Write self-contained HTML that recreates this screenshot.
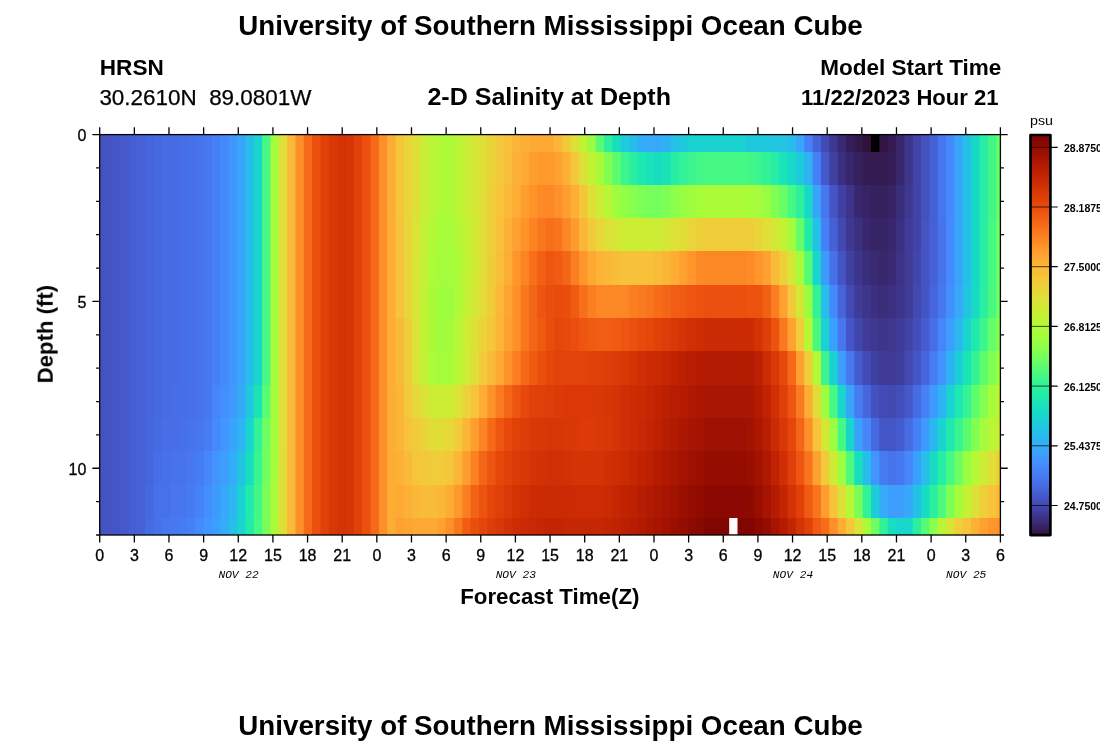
<!DOCTYPE html>
<html><head><meta charset="utf-8"><title>2-D Salinity at Depth</title>
<style>
html,body{margin:0;padding:0;background:#fff;}
svg{display:block;}
text{font-family:"Liberation Sans",sans-serif;fill:#000;}
.b{font-weight:bold;}
.m{font-family:"Liberation Mono",monospace;font-style:italic;}
</style></head><body>
<svg width="1100" height="750" viewBox="0 0 1100 750">
<defs><linearGradient id="cb" x1="0" y1="0" x2="0" y2="1"><stop offset="0.0000" stop-color="#7a0403"/><stop offset="0.0156" stop-color="#850702"/><stop offset="0.0312" stop-color="#920b01"/><stop offset="0.0469" stop-color="#9e1001"/><stop offset="0.0625" stop-color="#a91601"/><stop offset="0.0781" stop-color="#b41b01"/><stop offset="0.0938" stop-color="#be2102"/><stop offset="0.1094" stop-color="#c82803"/><stop offset="0.1250" stop-color="#d02f05"/><stop offset="0.1406" stop-color="#d83706"/><stop offset="0.1562" stop-color="#df3f08"/><stop offset="0.1719" stop-color="#e5470b"/><stop offset="0.1875" stop-color="#eb500e"/><stop offset="0.2031" stop-color="#f05b12"/><stop offset="0.2188" stop-color="#f46617"/><stop offset="0.2344" stop-color="#f8721c"/><stop offset="0.2500" stop-color="#fb7e21"/><stop offset="0.2656" stop-color="#fd8a26"/><stop offset="0.2812" stop-color="#fe962b"/><stop offset="0.2969" stop-color="#fea130"/><stop offset="0.3125" stop-color="#fdac34"/><stop offset="0.3281" stop-color="#fbb637"/><stop offset="0.3438" stop-color="#f8be39"/><stop offset="0.3594" stop-color="#f4c73a"/><stop offset="0.3750" stop-color="#eecf3a"/><stop offset="0.3906" stop-color="#e7d739"/><stop offset="0.4062" stop-color="#dfdf37"/><stop offset="0.4219" stop-color="#d7e535"/><stop offset="0.4375" stop-color="#cdec34"/><stop offset="0.4531" stop-color="#c3f134"/><stop offset="0.4688" stop-color="#b9f635"/><stop offset="0.4844" stop-color="#affa37"/><stop offset="0.5000" stop-color="#a4fc3c"/><stop offset="0.5156" stop-color="#99fe42"/><stop offset="0.5312" stop-color="#8bff4b"/><stop offset="0.5469" stop-color="#7dff56"/><stop offset="0.5625" stop-color="#6dfe62"/><stop offset="0.5781" stop-color="#5dfc6f"/><stop offset="0.5938" stop-color="#4ef97d"/><stop offset="0.6094" stop-color="#3ff68a"/><stop offset="0.6250" stop-color="#32f298"/><stop offset="0.6406" stop-color="#27eea4"/><stop offset="0.6562" stop-color="#1fe9af"/><stop offset="0.6719" stop-color="#19e3b9"/><stop offset="0.6875" stop-color="#18ddc2"/><stop offset="0.7031" stop-color="#19d5cd"/><stop offset="0.7188" stop-color="#1ccdd8"/><stop offset="0.7344" stop-color="#22c5e2"/><stop offset="0.7500" stop-color="#28bceb"/><stop offset="0.7656" stop-color="#2fb2f4"/><stop offset="0.7812" stop-color="#37a8fa"/><stop offset="0.7969" stop-color="#3d9efe"/><stop offset="0.8125" stop-color="#4294ff"/><stop offset="0.8281" stop-color="#458afc"/><stop offset="0.8438" stop-color="#4680f6"/><stop offset="0.8594" stop-color="#4776ee"/><stop offset="0.8750" stop-color="#466be3"/><stop offset="0.8906" stop-color="#4661d6"/><stop offset="0.9062" stop-color="#4456c7"/><stop offset="0.9219" stop-color="#424bb5"/><stop offset="0.9375" stop-color="#4040a2"/><stop offset="0.9531" stop-color="#3d358b"/><stop offset="0.9688" stop-color="#392a73"/><stop offset="0.9844" stop-color="#351e58"/><stop offset="1.0000" stop-color="#30123b"/></linearGradient><clipPath id="pc"><rect x="99.40" y="134.60" width="901.00" height="400.40"/></clipPath></defs>
<rect x="0" y="0" width="1100" height="750" fill="#fff"/>

<g clip-path="url(#pc)">
<rect x="99.40" y="134.00" width="901.10" height="18.00" fill="#4451bf"/>
<rect x="103.57" y="134.00" width="896.93" height="18.00" fill="#4454c3"/>
<rect x="111.91" y="134.00" width="888.59" height="18.00" fill="#4456c7"/>
<rect x="120.25" y="134.00" width="880.25" height="18.00" fill="#4559cb"/>
<rect x="128.60" y="134.00" width="871.90" height="18.00" fill="#455ed3"/>
<rect x="136.94" y="134.00" width="863.56" height="18.00" fill="#4661d6"/>
<rect x="145.28" y="134.00" width="855.22" height="18.00" fill="#4666dd"/>
<rect x="153.62" y="134.00" width="846.88" height="18.00" fill="#4669e0"/>
<rect x="161.96" y="134.00" width="838.54" height="18.00" fill="#466be3"/>
<rect x="178.65" y="134.00" width="821.85" height="18.00" fill="#476ee6"/>
<rect x="186.99" y="134.00" width="813.51" height="18.00" fill="#4771e9"/>
<rect x="195.33" y="134.00" width="805.17" height="18.00" fill="#4773eb"/>
<rect x="203.67" y="134.00" width="796.83" height="18.00" fill="#4778f0"/>
<rect x="212.01" y="134.00" width="788.49" height="18.00" fill="#4680f6"/>
<rect x="220.35" y="134.00" width="780.15" height="18.00" fill="#458afc"/>
<rect x="228.70" y="134.00" width="771.80" height="18.00" fill="#4294ff"/>
<rect x="237.04" y="134.00" width="763.46" height="18.00" fill="#38a5fb"/>
<rect x="245.38" y="134.00" width="755.12" height="18.00" fill="#28bceb"/>
<rect x="253.72" y="134.00" width="746.78" height="18.00" fill="#19d5cd"/>
<rect x="262.06" y="134.00" width="738.44" height="18.00" fill="#46f884"/>
<rect x="270.40" y="134.00" width="730.10" height="18.00" fill="#a4fc3c"/>
<rect x="278.75" y="134.00" width="721.75" height="18.00" fill="#dfdf37"/>
<rect x="287.09" y="134.00" width="713.41" height="18.00" fill="#faba39"/>
<rect x="295.43" y="134.00" width="705.07" height="18.00" fill="#fe9029"/>
<rect x="303.77" y="134.00" width="696.73" height="18.00" fill="#f56918"/>
<rect x="312.11" y="134.00" width="688.39" height="18.00" fill="#eb500e"/>
<rect x="320.45" y="134.00" width="680.05" height="18.00" fill="#e14109"/>
<rect x="328.80" y="134.00" width="671.70" height="18.00" fill="#d83706"/>
<rect x="337.14" y="134.00" width="663.36" height="18.00" fill="#d43305"/>
<rect x="345.48" y="134.00" width="655.02" height="18.00" fill="#d63506"/>
<rect x="353.82" y="134.00" width="646.68" height="18.00" fill="#e14109"/>
<rect x="362.16" y="134.00" width="638.34" height="18.00" fill="#eb500e"/>
<rect x="370.50" y="134.00" width="630.00" height="18.00" fill="#f56918"/>
<rect x="378.85" y="134.00" width="621.65" height="18.00" fill="#fe9029"/>
<rect x="387.19" y="134.00" width="613.31" height="18.00" fill="#fdac34"/>
<rect x="395.53" y="134.00" width="604.97" height="18.00" fill="#f5c53a"/>
<rect x="403.87" y="134.00" width="596.63" height="18.00" fill="#e9d539"/>
<rect x="412.21" y="134.00" width="588.29" height="18.00" fill="#dde037"/>
<rect x="420.55" y="134.00" width="579.95" height="18.00" fill="#c8ef34"/>
<rect x="428.90" y="134.00" width="571.60" height="18.00" fill="#b9f635"/>
<rect x="437.24" y="134.00" width="563.26" height="18.00" fill="#affa37"/>
<rect x="445.58" y="134.00" width="554.92" height="18.00" fill="#acfb38"/>
<rect x="453.92" y="134.00" width="546.58" height="18.00" fill="#b9f635"/>
<rect x="462.26" y="134.00" width="538.24" height="18.00" fill="#c8ef34"/>
<rect x="470.60" y="134.00" width="529.90" height="18.00" fill="#d4e735"/>
<rect x="478.95" y="134.00" width="521.55" height="18.00" fill="#dfdf37"/>
<rect x="487.29" y="134.00" width="513.21" height="18.00" fill="#ebd339"/>
<rect x="495.63" y="134.00" width="504.87" height="18.00" fill="#f2c93a"/>
<rect x="503.97" y="134.00" width="496.53" height="18.00" fill="#f7c13a"/>
<rect x="512.31" y="134.00" width="488.19" height="18.00" fill="#fbb637"/>
<rect x="520.65" y="134.00" width="479.85" height="18.00" fill="#fdae35"/>
<rect x="529.00" y="134.00" width="471.50" height="18.00" fill="#fea933"/>
<rect x="554.02" y="134.00" width="446.48" height="18.00" fill="#fbb637"/>
<rect x="562.36" y="134.00" width="438.14" height="18.00" fill="#f2c93a"/>
<rect x="570.70" y="134.00" width="429.80" height="18.00" fill="#dde037"/>
<rect x="579.05" y="134.00" width="421.45" height="18.00" fill="#c1f334"/>
<rect x="587.39" y="134.00" width="413.11" height="18.00" fill="#99fe42"/>
<rect x="595.73" y="134.00" width="404.77" height="18.00" fill="#59fb73"/>
<rect x="604.07" y="134.00" width="396.43" height="18.00" fill="#2cf09e"/>
<rect x="612.41" y="134.00" width="388.09" height="18.00" fill="#18dec0"/>
<rect x="620.75" y="134.00" width="379.75" height="18.00" fill="#1ecbda"/>
<rect x="629.10" y="134.00" width="371.40" height="18.00" fill="#28bceb"/>
<rect x="637.44" y="134.00" width="363.06" height="18.00" fill="#33adf7"/>
<rect x="645.78" y="134.00" width="354.72" height="18.00" fill="#37a8fa"/>
<rect x="662.46" y="134.00" width="338.04" height="18.00" fill="#2fb2f4"/>
<rect x="670.80" y="134.00" width="329.70" height="18.00" fill="#25c0e7"/>
<rect x="679.15" y="134.00" width="321.35" height="18.00" fill="#1fc9dd"/>
<rect x="687.49" y="134.00" width="313.01" height="18.00" fill="#1ad2d2"/>
<rect x="745.88" y="134.00" width="254.62" height="18.00" fill="#1fc9dd"/>
<rect x="770.90" y="134.00" width="229.60" height="18.00" fill="#20c7df"/>
<rect x="779.25" y="134.00" width="221.25" height="18.00" fill="#23c3e4"/>
<rect x="787.59" y="134.00" width="212.91" height="18.00" fill="#28bceb"/>
<rect x="795.93" y="134.00" width="204.57" height="18.00" fill="#38a5fb"/>
<rect x="804.27" y="134.00" width="196.23" height="18.00" fill="#4680f6"/>
<rect x="812.61" y="134.00" width="187.89" height="18.00" fill="#4664da"/>
<rect x="820.95" y="134.00" width="179.55" height="18.00" fill="#424bb5"/>
<rect x="829.30" y="134.00" width="171.20" height="18.00" fill="#3e3891"/>
<rect x="837.64" y="134.00" width="162.86" height="18.00" fill="#392a73"/>
<rect x="845.98" y="134.00" width="154.52" height="18.00" fill="#351e58"/>
<rect x="854.32" y="134.00" width="146.18" height="18.00" fill="#33184a"/>
<rect x="862.66" y="134.00" width="137.84" height="18.00" fill="#30123b"/>
<rect x="879.35" y="134.00" width="121.15" height="18.00" fill="#321543"/>
<rect x="887.69" y="134.00" width="112.81" height="18.00" fill="#341b51"/>
<rect x="896.03" y="134.00" width="104.47" height="18.00" fill="#38276d"/>
<rect x="904.37" y="134.00" width="96.13" height="18.00" fill="#3d358b"/>
<rect x="912.71" y="134.00" width="87.79" height="18.00" fill="#4143a7"/>
<rect x="921.05" y="134.00" width="79.45" height="18.00" fill="#4451bf"/>
<rect x="929.40" y="134.00" width="71.10" height="18.00" fill="#4661d6"/>
<rect x="937.74" y="134.00" width="62.76" height="18.00" fill="#4776ee"/>
<rect x="946.08" y="134.00" width="54.42" height="18.00" fill="#458afc"/>
<rect x="954.42" y="134.00" width="46.08" height="18.00" fill="#38a5fb"/>
<rect x="962.76" y="134.00" width="37.74" height="18.00" fill="#25c0e7"/>
<rect x="971.10" y="134.00" width="29.40" height="18.00" fill="#18d9c8"/>
<rect x="979.45" y="134.00" width="21.05" height="18.00" fill="#27eea4"/>
<rect x="987.79" y="134.00" width="12.71" height="18.00" fill="#43f787"/>
<rect x="996.13" y="134.00" width="4.37" height="18.00" fill="#65fd69"/>
<rect x="99.40" y="152.00" width="901.10" height="33.00" fill="#4451bf"/>
<rect x="103.57" y="152.00" width="896.93" height="33.00" fill="#4454c3"/>
<rect x="111.91" y="152.00" width="888.59" height="33.00" fill="#4456c7"/>
<rect x="120.25" y="152.00" width="880.25" height="33.00" fill="#4559cb"/>
<rect x="128.60" y="152.00" width="871.90" height="33.00" fill="#455ed3"/>
<rect x="136.94" y="152.00" width="863.56" height="33.00" fill="#4661d6"/>
<rect x="145.28" y="152.00" width="855.22" height="33.00" fill="#4666dd"/>
<rect x="153.62" y="152.00" width="846.88" height="33.00" fill="#4669e0"/>
<rect x="161.96" y="152.00" width="838.54" height="33.00" fill="#466be3"/>
<rect x="178.65" y="152.00" width="821.85" height="33.00" fill="#476ee6"/>
<rect x="186.99" y="152.00" width="813.51" height="33.00" fill="#4771e9"/>
<rect x="195.33" y="152.00" width="805.17" height="33.00" fill="#4773eb"/>
<rect x="203.67" y="152.00" width="796.83" height="33.00" fill="#4778f0"/>
<rect x="212.01" y="152.00" width="788.49" height="33.00" fill="#4680f6"/>
<rect x="220.35" y="152.00" width="780.15" height="33.00" fill="#458afc"/>
<rect x="228.70" y="152.00" width="771.80" height="33.00" fill="#4294ff"/>
<rect x="237.04" y="152.00" width="763.46" height="33.00" fill="#38a5fb"/>
<rect x="245.38" y="152.00" width="755.12" height="33.00" fill="#28bceb"/>
<rect x="253.72" y="152.00" width="746.78" height="33.00" fill="#19d5cd"/>
<rect x="262.06" y="152.00" width="738.44" height="33.00" fill="#46f884"/>
<rect x="270.40" y="152.00" width="730.10" height="33.00" fill="#a4fc3c"/>
<rect x="278.75" y="152.00" width="721.75" height="33.00" fill="#dfdf37"/>
<rect x="287.09" y="152.00" width="713.41" height="33.00" fill="#faba39"/>
<rect x="295.43" y="152.00" width="705.07" height="33.00" fill="#fe9029"/>
<rect x="303.77" y="152.00" width="696.73" height="33.00" fill="#f56918"/>
<rect x="312.11" y="152.00" width="688.39" height="33.00" fill="#eb500e"/>
<rect x="320.45" y="152.00" width="680.05" height="33.00" fill="#e14109"/>
<rect x="328.80" y="152.00" width="671.70" height="33.00" fill="#d83706"/>
<rect x="337.14" y="152.00" width="663.36" height="33.00" fill="#d43305"/>
<rect x="345.48" y="152.00" width="655.02" height="33.00" fill="#d63506"/>
<rect x="353.82" y="152.00" width="646.68" height="33.00" fill="#e14109"/>
<rect x="362.16" y="152.00" width="638.34" height="33.00" fill="#eb500e"/>
<rect x="370.50" y="152.00" width="630.00" height="33.00" fill="#f56918"/>
<rect x="378.85" y="152.00" width="621.65" height="33.00" fill="#fe9029"/>
<rect x="387.19" y="152.00" width="613.31" height="33.00" fill="#fdac34"/>
<rect x="395.53" y="152.00" width="604.97" height="33.00" fill="#f5c53a"/>
<rect x="403.87" y="152.00" width="596.63" height="33.00" fill="#e9d539"/>
<rect x="412.21" y="152.00" width="588.29" height="33.00" fill="#dde037"/>
<rect x="420.55" y="152.00" width="579.95" height="33.00" fill="#c8ef34"/>
<rect x="428.90" y="152.00" width="571.60" height="33.00" fill="#b9f635"/>
<rect x="437.24" y="152.00" width="563.26" height="33.00" fill="#affa37"/>
<rect x="445.58" y="152.00" width="554.92" height="33.00" fill="#acfb38"/>
<rect x="453.92" y="152.00" width="546.58" height="33.00" fill="#b9f635"/>
<rect x="462.26" y="152.00" width="538.24" height="33.00" fill="#c8ef34"/>
<rect x="470.60" y="152.00" width="529.90" height="33.00" fill="#d4e735"/>
<rect x="478.95" y="152.00" width="521.55" height="33.00" fill="#dfdf37"/>
<rect x="487.29" y="152.00" width="513.21" height="33.00" fill="#ebd339"/>
<rect x="495.63" y="152.00" width="504.87" height="33.00" fill="#f2c93a"/>
<rect x="503.97" y="152.00" width="496.53" height="33.00" fill="#f8be39"/>
<rect x="512.31" y="152.00" width="488.19" height="33.00" fill="#fcb136"/>
<rect x="520.65" y="152.00" width="479.85" height="33.00" fill="#fea933"/>
<rect x="529.00" y="152.00" width="471.50" height="33.00" fill="#fe9e2f"/>
<rect x="537.34" y="152.00" width="463.16" height="33.00" fill="#fe992c"/>
<rect x="554.02" y="152.00" width="446.48" height="33.00" fill="#fea130"/>
<rect x="562.36" y="152.00" width="438.14" height="33.00" fill="#fcb136"/>
<rect x="570.70" y="152.00" width="429.80" height="33.00" fill="#f4c73a"/>
<rect x="579.05" y="152.00" width="421.45" height="33.00" fill="#dde037"/>
<rect x="587.39" y="152.00" width="413.11" height="33.00" fill="#c3f134"/>
<rect x="595.73" y="152.00" width="404.77" height="33.00" fill="#a9fb39"/>
<rect x="604.07" y="152.00" width="396.43" height="33.00" fill="#80ff53"/>
<rect x="612.41" y="152.00" width="388.09" height="33.00" fill="#5dfc6f"/>
<rect x="620.75" y="152.00" width="379.75" height="33.00" fill="#3cf58e"/>
<rect x="629.10" y="152.00" width="371.40" height="33.00" fill="#2aefa1"/>
<rect x="637.44" y="152.00" width="363.06" height="33.00" fill="#1de7b2"/>
<rect x="645.78" y="152.00" width="354.72" height="33.00" fill="#19e2bb"/>
<rect x="654.12" y="152.00" width="346.38" height="33.00" fill="#18dec0"/>
<rect x="662.46" y="152.00" width="338.04" height="33.00" fill="#1ae4b6"/>
<rect x="670.80" y="152.00" width="329.70" height="33.00" fill="#27eea4"/>
<rect x="679.15" y="152.00" width="321.35" height="33.00" fill="#32f298"/>
<rect x="687.49" y="152.00" width="313.01" height="33.00" fill="#3cf58e"/>
<rect x="695.83" y="152.00" width="304.67" height="33.00" fill="#43f787"/>
<rect x="704.17" y="152.00" width="296.33" height="33.00" fill="#46f884"/>
<rect x="745.88" y="152.00" width="254.62" height="33.00" fill="#43f787"/>
<rect x="754.22" y="152.00" width="246.28" height="33.00" fill="#3cf58e"/>
<rect x="762.56" y="152.00" width="237.94" height="33.00" fill="#32f298"/>
<rect x="770.90" y="152.00" width="229.60" height="33.00" fill="#27eea4"/>
<rect x="779.25" y="152.00" width="221.25" height="33.00" fill="#19e3b9"/>
<rect x="787.59" y="152.00" width="212.91" height="33.00" fill="#18d9c8"/>
<rect x="795.93" y="152.00" width="204.57" height="33.00" fill="#1ecbda"/>
<rect x="804.27" y="152.00" width="196.23" height="33.00" fill="#2fb2f4"/>
<rect x="812.61" y="152.00" width="187.89" height="33.00" fill="#4680f6"/>
<rect x="820.95" y="152.00" width="179.55" height="33.00" fill="#4559cb"/>
<rect x="829.30" y="152.00" width="171.20" height="33.00" fill="#4040a2"/>
<rect x="837.64" y="152.00" width="162.86" height="33.00" fill="#3b2f80"/>
<rect x="845.98" y="152.00" width="154.52" height="33.00" fill="#38276d"/>
<rect x="854.32" y="152.00" width="146.18" height="33.00" fill="#36215f"/>
<rect x="862.66" y="152.00" width="137.84" height="33.00" fill="#341b51"/>
<rect x="887.69" y="152.00" width="112.81" height="33.00" fill="#351e58"/>
<rect x="896.03" y="152.00" width="104.47" height="33.00" fill="#38276d"/>
<rect x="904.37" y="152.00" width="96.13" height="33.00" fill="#3d358b"/>
<rect x="912.71" y="152.00" width="87.79" height="33.00" fill="#4143a7"/>
<rect x="921.05" y="152.00" width="79.45" height="33.00" fill="#4451bf"/>
<rect x="929.40" y="152.00" width="71.10" height="33.00" fill="#4661d6"/>
<rect x="937.74" y="152.00" width="62.76" height="33.00" fill="#4776ee"/>
<rect x="946.08" y="152.00" width="54.42" height="33.00" fill="#458afc"/>
<rect x="954.42" y="152.00" width="46.08" height="33.00" fill="#38a5fb"/>
<rect x="962.76" y="152.00" width="37.74" height="33.00" fill="#25c0e7"/>
<rect x="971.10" y="152.00" width="29.40" height="33.00" fill="#18d9c8"/>
<rect x="979.45" y="152.00" width="21.05" height="33.00" fill="#27eea4"/>
<rect x="987.79" y="152.00" width="12.71" height="33.00" fill="#43f787"/>
<rect x="996.13" y="152.00" width="4.37" height="33.00" fill="#65fd69"/>
<rect x="99.40" y="185.00" width="901.10" height="33.00" fill="#4451bf"/>
<rect x="103.57" y="185.00" width="896.93" height="33.00" fill="#4454c3"/>
<rect x="111.91" y="185.00" width="888.59" height="33.00" fill="#4456c7"/>
<rect x="120.25" y="185.00" width="880.25" height="33.00" fill="#4559cb"/>
<rect x="128.60" y="185.00" width="871.90" height="33.00" fill="#455ed3"/>
<rect x="136.94" y="185.00" width="863.56" height="33.00" fill="#4661d6"/>
<rect x="145.28" y="185.00" width="855.22" height="33.00" fill="#4666dd"/>
<rect x="153.62" y="185.00" width="846.88" height="33.00" fill="#4669e0"/>
<rect x="161.96" y="185.00" width="838.54" height="33.00" fill="#466be3"/>
<rect x="178.65" y="185.00" width="821.85" height="33.00" fill="#476ee6"/>
<rect x="186.99" y="185.00" width="813.51" height="33.00" fill="#4771e9"/>
<rect x="195.33" y="185.00" width="805.17" height="33.00" fill="#4773eb"/>
<rect x="203.67" y="185.00" width="796.83" height="33.00" fill="#4778f0"/>
<rect x="212.01" y="185.00" width="788.49" height="33.00" fill="#4680f6"/>
<rect x="220.35" y="185.00" width="780.15" height="33.00" fill="#458afc"/>
<rect x="228.70" y="185.00" width="771.80" height="33.00" fill="#4294ff"/>
<rect x="237.04" y="185.00" width="763.46" height="33.00" fill="#38a5fb"/>
<rect x="245.38" y="185.00" width="755.12" height="33.00" fill="#28bceb"/>
<rect x="253.72" y="185.00" width="746.78" height="33.00" fill="#19d5cd"/>
<rect x="262.06" y="185.00" width="738.44" height="33.00" fill="#46f884"/>
<rect x="270.40" y="185.00" width="730.10" height="33.00" fill="#a4fc3c"/>
<rect x="278.75" y="185.00" width="721.75" height="33.00" fill="#dfdf37"/>
<rect x="287.09" y="185.00" width="713.41" height="33.00" fill="#faba39"/>
<rect x="295.43" y="185.00" width="705.07" height="33.00" fill="#fe9029"/>
<rect x="303.77" y="185.00" width="696.73" height="33.00" fill="#f56918"/>
<rect x="312.11" y="185.00" width="688.39" height="33.00" fill="#eb500e"/>
<rect x="320.45" y="185.00" width="680.05" height="33.00" fill="#e14109"/>
<rect x="328.80" y="185.00" width="671.70" height="33.00" fill="#d83706"/>
<rect x="337.14" y="185.00" width="663.36" height="33.00" fill="#d43305"/>
<rect x="345.48" y="185.00" width="655.02" height="33.00" fill="#d63506"/>
<rect x="353.82" y="185.00" width="646.68" height="33.00" fill="#e14109"/>
<rect x="362.16" y="185.00" width="638.34" height="33.00" fill="#eb500e"/>
<rect x="370.50" y="185.00" width="630.00" height="33.00" fill="#f56918"/>
<rect x="378.85" y="185.00" width="621.65" height="33.00" fill="#fe9029"/>
<rect x="387.19" y="185.00" width="613.31" height="33.00" fill="#fdac34"/>
<rect x="395.53" y="185.00" width="604.97" height="33.00" fill="#f5c53a"/>
<rect x="403.87" y="185.00" width="596.63" height="33.00" fill="#e9d539"/>
<rect x="412.21" y="185.00" width="588.29" height="33.00" fill="#dde037"/>
<rect x="420.55" y="185.00" width="579.95" height="33.00" fill="#c8ef34"/>
<rect x="428.90" y="185.00" width="571.60" height="33.00" fill="#b9f635"/>
<rect x="437.24" y="185.00" width="563.26" height="33.00" fill="#affa37"/>
<rect x="445.58" y="185.00" width="554.92" height="33.00" fill="#acfb38"/>
<rect x="453.92" y="185.00" width="546.58" height="33.00" fill="#b9f635"/>
<rect x="462.26" y="185.00" width="538.24" height="33.00" fill="#c8ef34"/>
<rect x="470.60" y="185.00" width="529.90" height="33.00" fill="#d4e735"/>
<rect x="478.95" y="185.00" width="521.55" height="33.00" fill="#dfdf37"/>
<rect x="487.29" y="185.00" width="513.21" height="33.00" fill="#eecf3a"/>
<rect x="495.63" y="185.00" width="504.87" height="33.00" fill="#f6c33a"/>
<rect x="503.97" y="185.00" width="496.53" height="33.00" fill="#fbb838"/>
<rect x="512.31" y="185.00" width="488.19" height="33.00" fill="#fdac34"/>
<rect x="520.65" y="185.00" width="479.85" height="33.00" fill="#fe9e2f"/>
<rect x="529.00" y="185.00" width="471.50" height="33.00" fill="#fe932a"/>
<rect x="537.34" y="185.00" width="463.16" height="33.00" fill="#fd8a26"/>
<rect x="545.68" y="185.00" width="454.82" height="33.00" fill="#fc8725"/>
<rect x="554.02" y="185.00" width="446.48" height="33.00" fill="#fe9029"/>
<rect x="562.36" y="185.00" width="438.14" height="33.00" fill="#fe9e2f"/>
<rect x="570.70" y="185.00" width="429.80" height="33.00" fill="#fcb136"/>
<rect x="579.05" y="185.00" width="421.45" height="33.00" fill="#f4c73a"/>
<rect x="587.39" y="185.00" width="413.11" height="33.00" fill="#dfdf37"/>
<rect x="595.73" y="185.00" width="404.77" height="33.00" fill="#cbed34"/>
<rect x="604.07" y="185.00" width="396.43" height="33.00" fill="#b7f735"/>
<rect x="612.41" y="185.00" width="388.09" height="33.00" fill="#9ffd3f"/>
<rect x="620.75" y="185.00" width="379.75" height="33.00" fill="#92ff47"/>
<rect x="629.10" y="185.00" width="371.40" height="33.00" fill="#88ff4e"/>
<rect x="637.44" y="185.00" width="363.06" height="33.00" fill="#7dff56"/>
<rect x="645.78" y="185.00" width="354.72" height="33.00" fill="#75fe5c"/>
<rect x="662.46" y="185.00" width="338.04" height="33.00" fill="#7dff56"/>
<rect x="670.80" y="185.00" width="329.70" height="33.00" fill="#8bff4b"/>
<rect x="679.15" y="185.00" width="321.35" height="33.00" fill="#99fe42"/>
<rect x="687.49" y="185.00" width="313.01" height="33.00" fill="#9ffd3f"/>
<rect x="695.83" y="185.00" width="304.67" height="33.00" fill="#a7fc3a"/>
<rect x="704.17" y="185.00" width="296.33" height="33.00" fill="#acfb38"/>
<rect x="745.88" y="185.00" width="254.62" height="33.00" fill="#a7fc3a"/>
<rect x="754.22" y="185.00" width="246.28" height="33.00" fill="#a4fc3c"/>
<rect x="762.56" y="185.00" width="237.94" height="33.00" fill="#99fe42"/>
<rect x="770.90" y="185.00" width="229.60" height="33.00" fill="#80ff53"/>
<rect x="779.25" y="185.00" width="221.25" height="33.00" fill="#69fd66"/>
<rect x="787.59" y="185.00" width="212.91" height="33.00" fill="#46f884"/>
<rect x="795.93" y="185.00" width="204.57" height="33.00" fill="#2cf09e"/>
<rect x="804.27" y="185.00" width="196.23" height="33.00" fill="#18d9c8"/>
<rect x="812.61" y="185.00" width="187.89" height="33.00" fill="#38a5fb"/>
<rect x="820.95" y="185.00" width="179.55" height="33.00" fill="#4778f0"/>
<rect x="829.30" y="185.00" width="171.20" height="33.00" fill="#4456c7"/>
<rect x="837.64" y="185.00" width="162.86" height="33.00" fill="#4040a2"/>
<rect x="845.98" y="185.00" width="154.52" height="33.00" fill="#3d358b"/>
<rect x="854.32" y="185.00" width="146.18" height="33.00" fill="#38276d"/>
<rect x="862.66" y="185.00" width="137.84" height="33.00" fill="#372466"/>
<rect x="871.00" y="185.00" width="129.50" height="33.00" fill="#36215f"/>
<rect x="887.69" y="185.00" width="112.81" height="33.00" fill="#372466"/>
<rect x="896.03" y="185.00" width="104.47" height="33.00" fill="#3a2d79"/>
<rect x="904.37" y="185.00" width="96.13" height="33.00" fill="#3e3891"/>
<rect x="912.71" y="185.00" width="87.79" height="33.00" fill="#4143a7"/>
<rect x="921.05" y="185.00" width="79.45" height="33.00" fill="#4451bf"/>
<rect x="929.40" y="185.00" width="71.10" height="33.00" fill="#4661d6"/>
<rect x="937.74" y="185.00" width="62.76" height="33.00" fill="#4776ee"/>
<rect x="946.08" y="185.00" width="54.42" height="33.00" fill="#458afc"/>
<rect x="954.42" y="185.00" width="46.08" height="33.00" fill="#38a5fb"/>
<rect x="962.76" y="185.00" width="37.74" height="33.00" fill="#25c0e7"/>
<rect x="971.10" y="185.00" width="29.40" height="33.00" fill="#18d9c8"/>
<rect x="979.45" y="185.00" width="21.05" height="33.00" fill="#27eea4"/>
<rect x="987.79" y="185.00" width="12.71" height="33.00" fill="#43f787"/>
<rect x="996.13" y="185.00" width="4.37" height="33.00" fill="#65fd69"/>
<rect x="99.40" y="218.00" width="901.10" height="33.00" fill="#4451bf"/>
<rect x="103.57" y="218.00" width="896.93" height="33.00" fill="#4454c3"/>
<rect x="111.91" y="218.00" width="888.59" height="33.00" fill="#4456c7"/>
<rect x="120.25" y="218.00" width="880.25" height="33.00" fill="#4559cb"/>
<rect x="128.60" y="218.00" width="871.90" height="33.00" fill="#455ed3"/>
<rect x="136.94" y="218.00" width="863.56" height="33.00" fill="#4661d6"/>
<rect x="145.28" y="218.00" width="855.22" height="33.00" fill="#4666dd"/>
<rect x="153.62" y="218.00" width="846.88" height="33.00" fill="#4669e0"/>
<rect x="161.96" y="218.00" width="838.54" height="33.00" fill="#466be3"/>
<rect x="178.65" y="218.00" width="821.85" height="33.00" fill="#476ee6"/>
<rect x="186.99" y="218.00" width="813.51" height="33.00" fill="#4771e9"/>
<rect x="195.33" y="218.00" width="805.17" height="33.00" fill="#4773eb"/>
<rect x="203.67" y="218.00" width="796.83" height="33.00" fill="#4778f0"/>
<rect x="212.01" y="218.00" width="788.49" height="33.00" fill="#4680f6"/>
<rect x="220.35" y="218.00" width="780.15" height="33.00" fill="#458afc"/>
<rect x="228.70" y="218.00" width="771.80" height="33.00" fill="#4294ff"/>
<rect x="237.04" y="218.00" width="763.46" height="33.00" fill="#38a5fb"/>
<rect x="245.38" y="218.00" width="755.12" height="33.00" fill="#28bceb"/>
<rect x="253.72" y="218.00" width="746.78" height="33.00" fill="#19d5cd"/>
<rect x="262.06" y="218.00" width="738.44" height="33.00" fill="#46f884"/>
<rect x="270.40" y="218.00" width="730.10" height="33.00" fill="#a4fc3c"/>
<rect x="278.75" y="218.00" width="721.75" height="33.00" fill="#dfdf37"/>
<rect x="287.09" y="218.00" width="713.41" height="33.00" fill="#faba39"/>
<rect x="295.43" y="218.00" width="705.07" height="33.00" fill="#fe9029"/>
<rect x="303.77" y="218.00" width="696.73" height="33.00" fill="#f56918"/>
<rect x="312.11" y="218.00" width="688.39" height="33.00" fill="#eb500e"/>
<rect x="320.45" y="218.00" width="680.05" height="33.00" fill="#e14109"/>
<rect x="328.80" y="218.00" width="671.70" height="33.00" fill="#d83706"/>
<rect x="337.14" y="218.00" width="663.36" height="33.00" fill="#d43305"/>
<rect x="345.48" y="218.00" width="655.02" height="33.00" fill="#d63506"/>
<rect x="353.82" y="218.00" width="646.68" height="33.00" fill="#e14109"/>
<rect x="362.16" y="218.00" width="638.34" height="33.00" fill="#eb500e"/>
<rect x="370.50" y="218.00" width="630.00" height="33.00" fill="#f56918"/>
<rect x="378.85" y="218.00" width="621.65" height="33.00" fill="#fe9029"/>
<rect x="387.19" y="218.00" width="613.31" height="33.00" fill="#fdac34"/>
<rect x="395.53" y="218.00" width="604.97" height="33.00" fill="#f6c33a"/>
<rect x="403.87" y="218.00" width="596.63" height="33.00" fill="#e9d539"/>
<rect x="412.21" y="218.00" width="588.29" height="33.00" fill="#d9e436"/>
<rect x="420.55" y="218.00" width="579.95" height="33.00" fill="#c3f134"/>
<rect x="428.90" y="218.00" width="571.60" height="33.00" fill="#b1f936"/>
<rect x="437.24" y="218.00" width="563.26" height="33.00" fill="#a7fc3a"/>
<rect x="453.92" y="218.00" width="546.58" height="33.00" fill="#b1f936"/>
<rect x="462.26" y="218.00" width="538.24" height="33.00" fill="#c1f334"/>
<rect x="470.60" y="218.00" width="529.90" height="33.00" fill="#d0ea34"/>
<rect x="478.95" y="218.00" width="521.55" height="33.00" fill="#dfdf37"/>
<rect x="487.29" y="218.00" width="513.21" height="33.00" fill="#eecf3a"/>
<rect x="495.63" y="218.00" width="504.87" height="33.00" fill="#f7c13a"/>
<rect x="503.97" y="218.00" width="496.53" height="33.00" fill="#fcb136"/>
<rect x="512.31" y="218.00" width="488.19" height="33.00" fill="#fea130"/>
<rect x="520.65" y="218.00" width="479.85" height="33.00" fill="#fe932a"/>
<rect x="529.00" y="218.00" width="471.50" height="33.00" fill="#fc8423"/>
<rect x="537.34" y="218.00" width="463.16" height="33.00" fill="#f9781e"/>
<rect x="545.68" y="218.00" width="454.82" height="33.00" fill="#f76f1a"/>
<rect x="554.02" y="218.00" width="446.48" height="33.00" fill="#f9751d"/>
<rect x="562.36" y="218.00" width="438.14" height="33.00" fill="#fc8725"/>
<rect x="570.70" y="218.00" width="429.80" height="33.00" fill="#fe9b2d"/>
<rect x="579.05" y="218.00" width="421.45" height="33.00" fill="#fbb637"/>
<rect x="587.39" y="218.00" width="413.11" height="33.00" fill="#f2c93a"/>
<rect x="595.73" y="218.00" width="404.77" height="33.00" fill="#e7d739"/>
<rect x="604.07" y="218.00" width="396.43" height="33.00" fill="#dde037"/>
<rect x="612.41" y="218.00" width="388.09" height="33.00" fill="#d4e735"/>
<rect x="620.75" y="218.00" width="379.75" height="33.00" fill="#cdec34"/>
<rect x="629.10" y="218.00" width="371.40" height="33.00" fill="#cbed34"/>
<rect x="637.44" y="218.00" width="363.06" height="33.00" fill="#cdec34"/>
<rect x="662.46" y="218.00" width="338.04" height="33.00" fill="#d4e735"/>
<rect x="670.80" y="218.00" width="329.70" height="33.00" fill="#dde037"/>
<rect x="679.15" y="218.00" width="321.35" height="33.00" fill="#e1dd37"/>
<rect x="687.49" y="218.00" width="313.01" height="33.00" fill="#e9d539"/>
<rect x="695.83" y="218.00" width="304.67" height="33.00" fill="#eecf3a"/>
<rect x="704.17" y="218.00" width="296.33" height="33.00" fill="#efcd3a"/>
<rect x="745.88" y="218.00" width="254.62" height="33.00" fill="#eecf3a"/>
<rect x="754.22" y="218.00" width="246.28" height="33.00" fill="#e9d539"/>
<rect x="762.56" y="218.00" width="237.94" height="33.00" fill="#dfdf37"/>
<rect x="770.90" y="218.00" width="229.60" height="33.00" fill="#d4e735"/>
<rect x="779.25" y="218.00" width="221.25" height="33.00" fill="#c3f134"/>
<rect x="787.59" y="218.00" width="212.91" height="33.00" fill="#a4fc3c"/>
<rect x="795.93" y="218.00" width="204.57" height="33.00" fill="#65fd69"/>
<rect x="804.27" y="218.00" width="196.23" height="33.00" fill="#22ebaa"/>
<rect x="812.61" y="218.00" width="187.89" height="33.00" fill="#25c0e7"/>
<rect x="820.95" y="218.00" width="179.55" height="33.00" fill="#4680f6"/>
<rect x="829.30" y="218.00" width="171.20" height="33.00" fill="#4661d6"/>
<rect x="837.64" y="218.00" width="162.86" height="33.00" fill="#4249b1"/>
<rect x="845.98" y="218.00" width="154.52" height="33.00" fill="#3e3891"/>
<rect x="854.32" y="218.00" width="146.18" height="33.00" fill="#3b2f80"/>
<rect x="862.66" y="218.00" width="137.84" height="33.00" fill="#38276d"/>
<rect x="871.00" y="218.00" width="129.50" height="33.00" fill="#372466"/>
<rect x="887.69" y="218.00" width="112.81" height="33.00" fill="#38276d"/>
<rect x="896.03" y="218.00" width="104.47" height="33.00" fill="#3b2f80"/>
<rect x="904.37" y="218.00" width="96.13" height="33.00" fill="#3f3b97"/>
<rect x="912.71" y="218.00" width="87.79" height="33.00" fill="#4143a7"/>
<rect x="921.05" y="218.00" width="79.45" height="33.00" fill="#4454c3"/>
<rect x="929.40" y="218.00" width="71.10" height="33.00" fill="#4661d6"/>
<rect x="937.74" y="218.00" width="62.76" height="33.00" fill="#4773eb"/>
<rect x="946.08" y="218.00" width="54.42" height="33.00" fill="#458afc"/>
<rect x="954.42" y="218.00" width="46.08" height="33.00" fill="#38a5fb"/>
<rect x="962.76" y="218.00" width="37.74" height="33.00" fill="#25c0e7"/>
<rect x="971.10" y="218.00" width="29.40" height="33.00" fill="#18d9c8"/>
<rect x="979.45" y="218.00" width="21.05" height="33.00" fill="#27eea4"/>
<rect x="987.79" y="218.00" width="12.71" height="33.00" fill="#46f884"/>
<rect x="996.13" y="218.00" width="4.37" height="33.00" fill="#6dfe62"/>
<rect x="99.40" y="251.00" width="901.10" height="34.00" fill="#4451bf"/>
<rect x="103.57" y="251.00" width="896.93" height="34.00" fill="#4454c3"/>
<rect x="111.91" y="251.00" width="888.59" height="34.00" fill="#4456c7"/>
<rect x="120.25" y="251.00" width="880.25" height="34.00" fill="#4559cb"/>
<rect x="128.60" y="251.00" width="871.90" height="34.00" fill="#455ed3"/>
<rect x="136.94" y="251.00" width="863.56" height="34.00" fill="#4661d6"/>
<rect x="145.28" y="251.00" width="855.22" height="34.00" fill="#4666dd"/>
<rect x="153.62" y="251.00" width="846.88" height="34.00" fill="#4669e0"/>
<rect x="161.96" y="251.00" width="838.54" height="34.00" fill="#466be3"/>
<rect x="178.65" y="251.00" width="821.85" height="34.00" fill="#476ee6"/>
<rect x="186.99" y="251.00" width="813.51" height="34.00" fill="#4771e9"/>
<rect x="195.33" y="251.00" width="805.17" height="34.00" fill="#4773eb"/>
<rect x="203.67" y="251.00" width="796.83" height="34.00" fill="#4778f0"/>
<rect x="212.01" y="251.00" width="788.49" height="34.00" fill="#4680f6"/>
<rect x="220.35" y="251.00" width="780.15" height="34.00" fill="#458afc"/>
<rect x="228.70" y="251.00" width="771.80" height="34.00" fill="#4294ff"/>
<rect x="237.04" y="251.00" width="763.46" height="34.00" fill="#38a5fb"/>
<rect x="245.38" y="251.00" width="755.12" height="34.00" fill="#28bceb"/>
<rect x="253.72" y="251.00" width="746.78" height="34.00" fill="#19d5cd"/>
<rect x="262.06" y="251.00" width="738.44" height="34.00" fill="#46f884"/>
<rect x="270.40" y="251.00" width="730.10" height="34.00" fill="#a4fc3c"/>
<rect x="278.75" y="251.00" width="721.75" height="34.00" fill="#dfdf37"/>
<rect x="287.09" y="251.00" width="713.41" height="34.00" fill="#faba39"/>
<rect x="295.43" y="251.00" width="705.07" height="34.00" fill="#fe9029"/>
<rect x="303.77" y="251.00" width="696.73" height="34.00" fill="#f56918"/>
<rect x="312.11" y="251.00" width="688.39" height="34.00" fill="#eb500e"/>
<rect x="320.45" y="251.00" width="680.05" height="34.00" fill="#e14109"/>
<rect x="328.80" y="251.00" width="671.70" height="34.00" fill="#d83706"/>
<rect x="337.14" y="251.00" width="663.36" height="34.00" fill="#d43305"/>
<rect x="345.48" y="251.00" width="655.02" height="34.00" fill="#d63506"/>
<rect x="353.82" y="251.00" width="646.68" height="34.00" fill="#e14109"/>
<rect x="362.16" y="251.00" width="638.34" height="34.00" fill="#eb500e"/>
<rect x="370.50" y="251.00" width="630.00" height="34.00" fill="#f56918"/>
<rect x="378.85" y="251.00" width="621.65" height="34.00" fill="#fe9029"/>
<rect x="387.19" y="251.00" width="613.31" height="34.00" fill="#fdac34"/>
<rect x="395.53" y="251.00" width="604.97" height="34.00" fill="#f6c33a"/>
<rect x="403.87" y="251.00" width="596.63" height="34.00" fill="#e9d539"/>
<rect x="412.21" y="251.00" width="588.29" height="34.00" fill="#d7e535"/>
<rect x="420.55" y="251.00" width="579.95" height="34.00" fill="#c1f334"/>
<rect x="428.90" y="251.00" width="571.60" height="34.00" fill="#acfb38"/>
<rect x="437.24" y="251.00" width="563.26" height="34.00" fill="#a4fc3c"/>
<rect x="453.92" y="251.00" width="546.58" height="34.00" fill="#acfb38"/>
<rect x="462.26" y="251.00" width="538.24" height="34.00" fill="#bef434"/>
<rect x="470.60" y="251.00" width="529.90" height="34.00" fill="#d0ea34"/>
<rect x="478.95" y="251.00" width="521.55" height="34.00" fill="#e1dd37"/>
<rect x="487.29" y="251.00" width="513.21" height="34.00" fill="#efcd3a"/>
<rect x="495.63" y="251.00" width="504.87" height="34.00" fill="#f8be39"/>
<rect x="503.97" y="251.00" width="496.53" height="34.00" fill="#fdac34"/>
<rect x="512.31" y="251.00" width="488.19" height="34.00" fill="#fe962b"/>
<rect x="520.65" y="251.00" width="479.85" height="34.00" fill="#fc8423"/>
<rect x="529.00" y="251.00" width="471.50" height="34.00" fill="#f76f1a"/>
<rect x="537.34" y="251.00" width="463.16" height="34.00" fill="#f26014"/>
<rect x="545.68" y="251.00" width="454.82" height="34.00" fill="#ed5510"/>
<rect x="554.02" y="251.00" width="446.48" height="34.00" fill="#f05b12"/>
<rect x="562.36" y="251.00" width="438.14" height="34.00" fill="#f46617"/>
<rect x="570.70" y="251.00" width="429.80" height="34.00" fill="#fb7e21"/>
<rect x="579.05" y="251.00" width="421.45" height="34.00" fill="#fe962b"/>
<rect x="587.39" y="251.00" width="413.11" height="34.00" fill="#fea933"/>
<rect x="595.73" y="251.00" width="404.77" height="34.00" fill="#fcb336"/>
<rect x="604.07" y="251.00" width="396.43" height="34.00" fill="#fbb838"/>
<rect x="612.41" y="251.00" width="388.09" height="34.00" fill="#f8be39"/>
<rect x="620.75" y="251.00" width="379.75" height="34.00" fill="#f7c13a"/>
<rect x="654.12" y="251.00" width="346.38" height="34.00" fill="#f9bc39"/>
<rect x="662.46" y="251.00" width="338.04" height="34.00" fill="#fbb637"/>
<rect x="670.80" y="251.00" width="329.70" height="34.00" fill="#fdac34"/>
<rect x="679.15" y="251.00" width="321.35" height="34.00" fill="#fea130"/>
<rect x="687.49" y="251.00" width="313.01" height="34.00" fill="#fe962b"/>
<rect x="695.83" y="251.00" width="304.67" height="34.00" fill="#fd8a26"/>
<rect x="704.17" y="251.00" width="296.33" height="34.00" fill="#fc8725"/>
<rect x="745.88" y="251.00" width="254.62" height="34.00" fill="#fd8a26"/>
<rect x="754.22" y="251.00" width="246.28" height="34.00" fill="#fe962b"/>
<rect x="762.56" y="251.00" width="237.94" height="34.00" fill="#fea130"/>
<rect x="770.90" y="251.00" width="229.60" height="34.00" fill="#faba39"/>
<rect x="779.25" y="251.00" width="221.25" height="34.00" fill="#eecf3a"/>
<rect x="787.59" y="251.00" width="212.91" height="34.00" fill="#d4e735"/>
<rect x="795.93" y="251.00" width="204.57" height="34.00" fill="#a4fc3c"/>
<rect x="804.27" y="251.00" width="196.23" height="34.00" fill="#55fa76"/>
<rect x="812.61" y="251.00" width="187.89" height="34.00" fill="#19d5cd"/>
<rect x="820.95" y="251.00" width="179.55" height="34.00" fill="#3e9bfe"/>
<rect x="829.30" y="251.00" width="171.20" height="34.00" fill="#4771e9"/>
<rect x="837.64" y="251.00" width="162.86" height="34.00" fill="#4454c3"/>
<rect x="845.98" y="251.00" width="154.52" height="34.00" fill="#4040a2"/>
<rect x="854.32" y="251.00" width="146.18" height="34.00" fill="#3d358b"/>
<rect x="862.66" y="251.00" width="137.84" height="34.00" fill="#3a2d79"/>
<rect x="871.00" y="251.00" width="129.50" height="34.00" fill="#392a73"/>
<rect x="879.35" y="251.00" width="121.15" height="34.00" fill="#38276d"/>
<rect x="887.69" y="251.00" width="112.81" height="34.00" fill="#392a73"/>
<rect x="896.03" y="251.00" width="104.47" height="34.00" fill="#3c3286"/>
<rect x="904.37" y="251.00" width="96.13" height="34.00" fill="#3f3b97"/>
<rect x="912.71" y="251.00" width="87.79" height="34.00" fill="#4146ac"/>
<rect x="921.05" y="251.00" width="79.45" height="34.00" fill="#4454c3"/>
<rect x="929.40" y="251.00" width="71.10" height="34.00" fill="#4661d6"/>
<rect x="937.74" y="251.00" width="62.76" height="34.00" fill="#4773eb"/>
<rect x="946.08" y="251.00" width="54.42" height="34.00" fill="#458afc"/>
<rect x="954.42" y="251.00" width="46.08" height="34.00" fill="#38a5fb"/>
<rect x="962.76" y="251.00" width="37.74" height="34.00" fill="#25c0e7"/>
<rect x="971.10" y="251.00" width="29.40" height="34.00" fill="#18d9c8"/>
<rect x="979.45" y="251.00" width="21.05" height="34.00" fill="#27eea4"/>
<rect x="987.79" y="251.00" width="12.71" height="34.00" fill="#46f884"/>
<rect x="996.13" y="251.00" width="4.37" height="34.00" fill="#6dfe62"/>
<rect x="99.40" y="285.00" width="901.10" height="33.00" fill="#4451bf"/>
<rect x="103.57" y="285.00" width="896.93" height="33.00" fill="#4454c3"/>
<rect x="111.91" y="285.00" width="888.59" height="33.00" fill="#4456c7"/>
<rect x="120.25" y="285.00" width="880.25" height="33.00" fill="#4559cb"/>
<rect x="128.60" y="285.00" width="871.90" height="33.00" fill="#455ed3"/>
<rect x="136.94" y="285.00" width="863.56" height="33.00" fill="#4661d6"/>
<rect x="145.28" y="285.00" width="855.22" height="33.00" fill="#4666dd"/>
<rect x="153.62" y="285.00" width="846.88" height="33.00" fill="#4669e0"/>
<rect x="161.96" y="285.00" width="838.54" height="33.00" fill="#466be3"/>
<rect x="178.65" y="285.00" width="821.85" height="33.00" fill="#476ee6"/>
<rect x="186.99" y="285.00" width="813.51" height="33.00" fill="#4771e9"/>
<rect x="195.33" y="285.00" width="805.17" height="33.00" fill="#4773eb"/>
<rect x="203.67" y="285.00" width="796.83" height="33.00" fill="#4778f0"/>
<rect x="212.01" y="285.00" width="788.49" height="33.00" fill="#4680f6"/>
<rect x="220.35" y="285.00" width="780.15" height="33.00" fill="#458afc"/>
<rect x="228.70" y="285.00" width="771.80" height="33.00" fill="#4294ff"/>
<rect x="237.04" y="285.00" width="763.46" height="33.00" fill="#38a5fb"/>
<rect x="245.38" y="285.00" width="755.12" height="33.00" fill="#28bceb"/>
<rect x="253.72" y="285.00" width="746.78" height="33.00" fill="#19d5cd"/>
<rect x="262.06" y="285.00" width="738.44" height="33.00" fill="#46f884"/>
<rect x="270.40" y="285.00" width="730.10" height="33.00" fill="#a4fc3c"/>
<rect x="278.75" y="285.00" width="721.75" height="33.00" fill="#dfdf37"/>
<rect x="287.09" y="285.00" width="713.41" height="33.00" fill="#faba39"/>
<rect x="295.43" y="285.00" width="705.07" height="33.00" fill="#fe9029"/>
<rect x="303.77" y="285.00" width="696.73" height="33.00" fill="#f56918"/>
<rect x="312.11" y="285.00" width="688.39" height="33.00" fill="#eb500e"/>
<rect x="320.45" y="285.00" width="680.05" height="33.00" fill="#e14109"/>
<rect x="328.80" y="285.00" width="671.70" height="33.00" fill="#d83706"/>
<rect x="337.14" y="285.00" width="663.36" height="33.00" fill="#d43305"/>
<rect x="345.48" y="285.00" width="655.02" height="33.00" fill="#d63506"/>
<rect x="353.82" y="285.00" width="646.68" height="33.00" fill="#e14109"/>
<rect x="362.16" y="285.00" width="638.34" height="33.00" fill="#eb500e"/>
<rect x="370.50" y="285.00" width="630.00" height="33.00" fill="#f56918"/>
<rect x="378.85" y="285.00" width="621.65" height="33.00" fill="#fe9029"/>
<rect x="387.19" y="285.00" width="613.31" height="33.00" fill="#fdac34"/>
<rect x="395.53" y="285.00" width="604.97" height="33.00" fill="#f6c33a"/>
<rect x="403.87" y="285.00" width="596.63" height="33.00" fill="#e9d539"/>
<rect x="412.21" y="285.00" width="588.29" height="33.00" fill="#d7e535"/>
<rect x="420.55" y="285.00" width="579.95" height="33.00" fill="#bef434"/>
<rect x="428.90" y="285.00" width="571.60" height="33.00" fill="#a9fb39"/>
<rect x="437.24" y="285.00" width="563.26" height="33.00" fill="#9ffd3f"/>
<rect x="453.92" y="285.00" width="546.58" height="33.00" fill="#acfb38"/>
<rect x="462.26" y="285.00" width="538.24" height="33.00" fill="#c1f334"/>
<rect x="470.60" y="285.00" width="529.90" height="33.00" fill="#d4e735"/>
<rect x="478.95" y="285.00" width="521.55" height="33.00" fill="#e3db38"/>
<rect x="487.29" y="285.00" width="513.21" height="33.00" fill="#f1cb3a"/>
<rect x="495.63" y="285.00" width="504.87" height="33.00" fill="#fbb838"/>
<rect x="503.97" y="285.00" width="496.53" height="33.00" fill="#fea431"/>
<rect x="512.31" y="285.00" width="488.19" height="33.00" fill="#fe9029"/>
<rect x="520.65" y="285.00" width="479.85" height="33.00" fill="#f9781e"/>
<rect x="529.00" y="285.00" width="471.50" height="33.00" fill="#f46617"/>
<rect x="537.34" y="285.00" width="463.16" height="33.00" fill="#ed5510"/>
<rect x="545.68" y="285.00" width="454.82" height="33.00" fill="#ea4e0d"/>
<rect x="554.02" y="285.00" width="446.48" height="33.00" fill="#e84b0c"/>
<rect x="562.36" y="285.00" width="438.14" height="33.00" fill="#ea4e0d"/>
<rect x="570.70" y="285.00" width="429.80" height="33.00" fill="#f05b12"/>
<rect x="579.05" y="285.00" width="421.45" height="33.00" fill="#f76f1a"/>
<rect x="587.39" y="285.00" width="413.11" height="33.00" fill="#fb7e21"/>
<rect x="595.73" y="285.00" width="404.77" height="33.00" fill="#fc8725"/>
<rect x="629.10" y="285.00" width="371.40" height="33.00" fill="#fb7e21"/>
<rect x="637.44" y="285.00" width="363.06" height="33.00" fill="#fa7b1f"/>
<rect x="645.78" y="285.00" width="354.72" height="33.00" fill="#f9751d"/>
<rect x="654.12" y="285.00" width="346.38" height="33.00" fill="#f66c19"/>
<rect x="662.46" y="285.00" width="338.04" height="33.00" fill="#f46617"/>
<rect x="670.80" y="285.00" width="329.70" height="33.00" fill="#f15d13"/>
<rect x="679.15" y="285.00" width="321.35" height="33.00" fill="#f05b12"/>
<rect x="687.49" y="285.00" width="313.01" height="33.00" fill="#ed5510"/>
<rect x="695.83" y="285.00" width="304.67" height="33.00" fill="#ec530f"/>
<rect x="704.17" y="285.00" width="296.33" height="33.00" fill="#eb500e"/>
<rect x="745.88" y="285.00" width="254.62" height="33.00" fill="#ec530f"/>
<rect x="762.56" y="285.00" width="237.94" height="33.00" fill="#f26014"/>
<rect x="770.90" y="285.00" width="229.60" height="33.00" fill="#fb7e21"/>
<rect x="779.25" y="285.00" width="221.25" height="33.00" fill="#fea130"/>
<rect x="787.59" y="285.00" width="212.91" height="33.00" fill="#f2c93a"/>
<rect x="795.93" y="285.00" width="204.57" height="33.00" fill="#d4e735"/>
<rect x="804.27" y="285.00" width="196.23" height="33.00" fill="#99fe42"/>
<rect x="812.61" y="285.00" width="187.89" height="33.00" fill="#32f298"/>
<rect x="820.95" y="285.00" width="179.55" height="33.00" fill="#27bee9"/>
<rect x="829.30" y="285.00" width="171.20" height="33.00" fill="#458afc"/>
<rect x="837.64" y="285.00" width="162.86" height="33.00" fill="#4664da"/>
<rect x="845.98" y="285.00" width="154.52" height="33.00" fill="#424bb5"/>
<rect x="854.32" y="285.00" width="146.18" height="33.00" fill="#3f3b97"/>
<rect x="862.66" y="285.00" width="137.84" height="33.00" fill="#3d358b"/>
<rect x="871.00" y="285.00" width="129.50" height="33.00" fill="#3b2f80"/>
<rect x="879.35" y="285.00" width="121.15" height="33.00" fill="#3a2d79"/>
<rect x="887.69" y="285.00" width="112.81" height="33.00" fill="#3b2f80"/>
<rect x="896.03" y="285.00" width="104.47" height="33.00" fill="#3d358b"/>
<rect x="904.37" y="285.00" width="96.13" height="33.00" fill="#3f3b97"/>
<rect x="912.71" y="285.00" width="87.79" height="33.00" fill="#4249b1"/>
<rect x="921.05" y="285.00" width="79.45" height="33.00" fill="#4454c3"/>
<rect x="929.40" y="285.00" width="71.10" height="33.00" fill="#4666dd"/>
<rect x="937.74" y="285.00" width="62.76" height="33.00" fill="#4778f0"/>
<rect x="946.08" y="285.00" width="54.42" height="33.00" fill="#448ffe"/>
<rect x="954.42" y="285.00" width="46.08" height="33.00" fill="#37a8fa"/>
<rect x="962.76" y="285.00" width="37.74" height="33.00" fill="#23c3e4"/>
<rect x="971.10" y="285.00" width="29.40" height="33.00" fill="#18dbc5"/>
<rect x="979.45" y="285.00" width="21.05" height="33.00" fill="#2aefa1"/>
<rect x="987.79" y="285.00" width="12.71" height="33.00" fill="#4af880"/>
<rect x="996.13" y="285.00" width="4.37" height="33.00" fill="#6dfe62"/>
<rect x="99.40" y="318.00" width="901.10" height="33.00" fill="#4451bf"/>
<rect x="103.57" y="318.00" width="896.93" height="33.00" fill="#4454c3"/>
<rect x="111.91" y="318.00" width="888.59" height="33.00" fill="#4456c7"/>
<rect x="120.25" y="318.00" width="880.25" height="33.00" fill="#4559cb"/>
<rect x="128.60" y="318.00" width="871.90" height="33.00" fill="#455ed3"/>
<rect x="136.94" y="318.00" width="863.56" height="33.00" fill="#4661d6"/>
<rect x="145.28" y="318.00" width="855.22" height="33.00" fill="#4666dd"/>
<rect x="153.62" y="318.00" width="846.88" height="33.00" fill="#4669e0"/>
<rect x="161.96" y="318.00" width="838.54" height="33.00" fill="#466be3"/>
<rect x="178.65" y="318.00" width="821.85" height="33.00" fill="#476ee6"/>
<rect x="186.99" y="318.00" width="813.51" height="33.00" fill="#4771e9"/>
<rect x="195.33" y="318.00" width="805.17" height="33.00" fill="#4773eb"/>
<rect x="203.67" y="318.00" width="796.83" height="33.00" fill="#4778f0"/>
<rect x="212.01" y="318.00" width="788.49" height="33.00" fill="#4680f6"/>
<rect x="220.35" y="318.00" width="780.15" height="33.00" fill="#458afc"/>
<rect x="228.70" y="318.00" width="771.80" height="33.00" fill="#4294ff"/>
<rect x="237.04" y="318.00" width="763.46" height="33.00" fill="#38a5fb"/>
<rect x="245.38" y="318.00" width="755.12" height="33.00" fill="#28bceb"/>
<rect x="253.72" y="318.00" width="746.78" height="33.00" fill="#19d5cd"/>
<rect x="262.06" y="318.00" width="738.44" height="33.00" fill="#46f884"/>
<rect x="270.40" y="318.00" width="730.10" height="33.00" fill="#a4fc3c"/>
<rect x="278.75" y="318.00" width="721.75" height="33.00" fill="#dfdf37"/>
<rect x="287.09" y="318.00" width="713.41" height="33.00" fill="#faba39"/>
<rect x="295.43" y="318.00" width="705.07" height="33.00" fill="#fe9029"/>
<rect x="303.77" y="318.00" width="696.73" height="33.00" fill="#f56918"/>
<rect x="312.11" y="318.00" width="688.39" height="33.00" fill="#eb500e"/>
<rect x="320.45" y="318.00" width="680.05" height="33.00" fill="#e14109"/>
<rect x="328.80" y="318.00" width="671.70" height="33.00" fill="#d83706"/>
<rect x="337.14" y="318.00" width="663.36" height="33.00" fill="#d43305"/>
<rect x="345.48" y="318.00" width="655.02" height="33.00" fill="#d63506"/>
<rect x="353.82" y="318.00" width="646.68" height="33.00" fill="#e14109"/>
<rect x="362.16" y="318.00" width="638.34" height="33.00" fill="#eb500e"/>
<rect x="370.50" y="318.00" width="630.00" height="33.00" fill="#f56918"/>
<rect x="378.85" y="318.00" width="621.65" height="33.00" fill="#fe9029"/>
<rect x="387.19" y="318.00" width="613.31" height="33.00" fill="#fdac34"/>
<rect x="395.53" y="318.00" width="604.97" height="33.00" fill="#faba39"/>
<rect x="403.87" y="318.00" width="596.63" height="33.00" fill="#eecf3a"/>
<rect x="412.21" y="318.00" width="588.29" height="33.00" fill="#d9e436"/>
<rect x="420.55" y="318.00" width="579.95" height="33.00" fill="#bef434"/>
<rect x="428.90" y="318.00" width="571.60" height="33.00" fill="#a9fb39"/>
<rect x="437.24" y="318.00" width="563.26" height="33.00" fill="#9ffd3f"/>
<rect x="445.58" y="318.00" width="554.92" height="33.00" fill="#a4fc3c"/>
<rect x="453.92" y="318.00" width="546.58" height="33.00" fill="#b4f836"/>
<rect x="462.26" y="318.00" width="538.24" height="33.00" fill="#cbed34"/>
<rect x="470.60" y="318.00" width="529.90" height="33.00" fill="#dde037"/>
<rect x="478.95" y="318.00" width="521.55" height="33.00" fill="#ebd339"/>
<rect x="487.29" y="318.00" width="513.21" height="33.00" fill="#f5c53a"/>
<rect x="495.63" y="318.00" width="504.87" height="33.00" fill="#fbb637"/>
<rect x="503.97" y="318.00" width="496.53" height="33.00" fill="#fea130"/>
<rect x="512.31" y="318.00" width="488.19" height="33.00" fill="#fe9029"/>
<rect x="520.65" y="318.00" width="479.85" height="33.00" fill="#f9781e"/>
<rect x="529.00" y="318.00" width="471.50" height="33.00" fill="#f46617"/>
<rect x="537.34" y="318.00" width="463.16" height="33.00" fill="#f05b12"/>
<rect x="545.68" y="318.00" width="454.82" height="33.00" fill="#ea4e0d"/>
<rect x="554.02" y="318.00" width="446.48" height="33.00" fill="#e5470b"/>
<rect x="562.36" y="318.00" width="438.14" height="33.00" fill="#e7490c"/>
<rect x="570.70" y="318.00" width="429.80" height="33.00" fill="#ea4e0d"/>
<rect x="579.05" y="318.00" width="421.45" height="33.00" fill="#ed5510"/>
<rect x="587.39" y="318.00" width="413.11" height="33.00" fill="#f05b12"/>
<rect x="595.73" y="318.00" width="404.77" height="33.00" fill="#f15d13"/>
<rect x="612.41" y="318.00" width="388.09" height="33.00" fill="#f05b12"/>
<rect x="620.75" y="318.00" width="379.75" height="33.00" fill="#ed5510"/>
<rect x="629.10" y="318.00" width="371.40" height="33.00" fill="#eb500e"/>
<rect x="637.44" y="318.00" width="363.06" height="33.00" fill="#e84b0c"/>
<rect x="645.78" y="318.00" width="354.72" height="33.00" fill="#e5470b"/>
<rect x="654.12" y="318.00" width="346.38" height="33.00" fill="#e14109"/>
<rect x="662.46" y="318.00" width="338.04" height="33.00" fill="#dd3d08"/>
<rect x="670.80" y="318.00" width="329.70" height="33.00" fill="#d83706"/>
<rect x="679.15" y="318.00" width="321.35" height="33.00" fill="#d43305"/>
<rect x="687.49" y="318.00" width="313.01" height="33.00" fill="#d02f05"/>
<rect x="695.83" y="318.00" width="304.67" height="33.00" fill="#ce2d04"/>
<rect x="704.17" y="318.00" width="296.33" height="33.00" fill="#ca2a04"/>
<rect x="745.88" y="318.00" width="254.62" height="33.00" fill="#cc2b04"/>
<rect x="754.22" y="318.00" width="246.28" height="33.00" fill="#d43305"/>
<rect x="762.56" y="318.00" width="237.94" height="33.00" fill="#df3f08"/>
<rect x="770.90" y="318.00" width="229.60" height="33.00" fill="#ec530f"/>
<rect x="779.25" y="318.00" width="221.25" height="33.00" fill="#f9781e"/>
<rect x="787.59" y="318.00" width="212.91" height="33.00" fill="#fea130"/>
<rect x="795.93" y="318.00" width="204.57" height="33.00" fill="#eecf3a"/>
<rect x="804.27" y="318.00" width="196.23" height="33.00" fill="#b4f836"/>
<rect x="812.61" y="318.00" width="187.89" height="33.00" fill="#4af880"/>
<rect x="820.95" y="318.00" width="179.55" height="33.00" fill="#1ad2d2"/>
<rect x="829.30" y="318.00" width="171.20" height="33.00" fill="#3ba0fd"/>
<rect x="837.64" y="318.00" width="162.86" height="33.00" fill="#4776ee"/>
<rect x="845.98" y="318.00" width="154.52" height="33.00" fill="#4456c7"/>
<rect x="854.32" y="318.00" width="146.18" height="33.00" fill="#4146ac"/>
<rect x="862.66" y="318.00" width="137.84" height="33.00" fill="#3f3b97"/>
<rect x="871.00" y="318.00" width="129.50" height="33.00" fill="#3e3891"/>
<rect x="879.35" y="318.00" width="121.15" height="33.00" fill="#3d358b"/>
<rect x="887.69" y="318.00" width="112.81" height="33.00" fill="#3e3891"/>
<rect x="896.03" y="318.00" width="104.47" height="33.00" fill="#3f3b97"/>
<rect x="904.37" y="318.00" width="96.13" height="33.00" fill="#4143a7"/>
<rect x="912.71" y="318.00" width="87.79" height="33.00" fill="#434eba"/>
<rect x="921.05" y="318.00" width="79.45" height="33.00" fill="#455ccf"/>
<rect x="929.40" y="318.00" width="71.10" height="33.00" fill="#476ee6"/>
<rect x="937.74" y="318.00" width="62.76" height="33.00" fill="#4685fa"/>
<rect x="946.08" y="318.00" width="54.42" height="33.00" fill="#3d9efe"/>
<rect x="954.42" y="318.00" width="46.08" height="33.00" fill="#2cb7f0"/>
<rect x="962.76" y="318.00" width="37.74" height="33.00" fill="#1ad4d0"/>
<rect x="971.10" y="318.00" width="29.40" height="33.00" fill="#1fe9af"/>
<rect x="979.45" y="318.00" width="21.05" height="33.00" fill="#3cf58e"/>
<rect x="987.79" y="318.00" width="12.71" height="33.00" fill="#65fd69"/>
<rect x="996.13" y="318.00" width="4.37" height="33.00" fill="#80ff53"/>
<rect x="99.40" y="351.00" width="901.10" height="34.00" fill="#4451bf"/>
<rect x="103.57" y="351.00" width="896.93" height="34.00" fill="#4454c3"/>
<rect x="111.91" y="351.00" width="888.59" height="34.00" fill="#4456c7"/>
<rect x="120.25" y="351.00" width="880.25" height="34.00" fill="#4559cb"/>
<rect x="128.60" y="351.00" width="871.90" height="34.00" fill="#455ed3"/>
<rect x="136.94" y="351.00" width="863.56" height="34.00" fill="#4661d6"/>
<rect x="145.28" y="351.00" width="855.22" height="34.00" fill="#4666dd"/>
<rect x="153.62" y="351.00" width="846.88" height="34.00" fill="#4669e0"/>
<rect x="161.96" y="351.00" width="838.54" height="34.00" fill="#466be3"/>
<rect x="178.65" y="351.00" width="821.85" height="34.00" fill="#476ee6"/>
<rect x="186.99" y="351.00" width="813.51" height="34.00" fill="#4771e9"/>
<rect x="195.33" y="351.00" width="805.17" height="34.00" fill="#4773eb"/>
<rect x="203.67" y="351.00" width="796.83" height="34.00" fill="#4778f0"/>
<rect x="212.01" y="351.00" width="788.49" height="34.00" fill="#4680f6"/>
<rect x="220.35" y="351.00" width="780.15" height="34.00" fill="#458afc"/>
<rect x="228.70" y="351.00" width="771.80" height="34.00" fill="#4294ff"/>
<rect x="237.04" y="351.00" width="763.46" height="34.00" fill="#38a5fb"/>
<rect x="245.38" y="351.00" width="755.12" height="34.00" fill="#28bceb"/>
<rect x="253.72" y="351.00" width="746.78" height="34.00" fill="#19d5cd"/>
<rect x="262.06" y="351.00" width="738.44" height="34.00" fill="#46f884"/>
<rect x="270.40" y="351.00" width="730.10" height="34.00" fill="#a4fc3c"/>
<rect x="278.75" y="351.00" width="721.75" height="34.00" fill="#dfdf37"/>
<rect x="287.09" y="351.00" width="713.41" height="34.00" fill="#faba39"/>
<rect x="295.43" y="351.00" width="705.07" height="34.00" fill="#fe9029"/>
<rect x="303.77" y="351.00" width="696.73" height="34.00" fill="#f56918"/>
<rect x="312.11" y="351.00" width="688.39" height="34.00" fill="#eb500e"/>
<rect x="320.45" y="351.00" width="680.05" height="34.00" fill="#e14109"/>
<rect x="328.80" y="351.00" width="671.70" height="34.00" fill="#d83706"/>
<rect x="337.14" y="351.00" width="663.36" height="34.00" fill="#d43305"/>
<rect x="345.48" y="351.00" width="655.02" height="34.00" fill="#d63506"/>
<rect x="353.82" y="351.00" width="646.68" height="34.00" fill="#e14109"/>
<rect x="362.16" y="351.00" width="638.34" height="34.00" fill="#eb500e"/>
<rect x="370.50" y="351.00" width="630.00" height="34.00" fill="#f56918"/>
<rect x="378.85" y="351.00" width="621.65" height="34.00" fill="#fe9029"/>
<rect x="387.19" y="351.00" width="613.31" height="34.00" fill="#fdac34"/>
<rect x="395.53" y="351.00" width="604.97" height="34.00" fill="#faba39"/>
<rect x="403.87" y="351.00" width="596.63" height="34.00" fill="#eecf3a"/>
<rect x="412.21" y="351.00" width="588.29" height="34.00" fill="#d9e436"/>
<rect x="420.55" y="351.00" width="579.95" height="34.00" fill="#c1f334"/>
<rect x="428.90" y="351.00" width="571.60" height="34.00" fill="#acfb38"/>
<rect x="437.24" y="351.00" width="563.26" height="34.00" fill="#a4fc3c"/>
<rect x="445.58" y="351.00" width="554.92" height="34.00" fill="#a7fc3a"/>
<rect x="453.92" y="351.00" width="546.58" height="34.00" fill="#b9f635"/>
<rect x="462.26" y="351.00" width="538.24" height="34.00" fill="#cdec34"/>
<rect x="470.60" y="351.00" width="529.90" height="34.00" fill="#e1dd37"/>
<rect x="478.95" y="351.00" width="521.55" height="34.00" fill="#f1cb3a"/>
<rect x="487.29" y="351.00" width="513.21" height="34.00" fill="#faba39"/>
<rect x="495.63" y="351.00" width="504.87" height="34.00" fill="#fea933"/>
<rect x="503.97" y="351.00" width="496.53" height="34.00" fill="#fe932a"/>
<rect x="512.31" y="351.00" width="488.19" height="34.00" fill="#fb7e21"/>
<rect x="520.65" y="351.00" width="479.85" height="34.00" fill="#f56918"/>
<rect x="529.00" y="351.00" width="471.50" height="34.00" fill="#f05b12"/>
<rect x="537.34" y="351.00" width="463.16" height="34.00" fill="#ea4e0d"/>
<rect x="545.68" y="351.00" width="454.82" height="34.00" fill="#e5470b"/>
<rect x="554.02" y="351.00" width="446.48" height="34.00" fill="#e2430a"/>
<rect x="587.39" y="351.00" width="413.11" height="34.00" fill="#e14109"/>
<rect x="604.07" y="351.00" width="396.43" height="34.00" fill="#dd3d08"/>
<rect x="612.41" y="351.00" width="388.09" height="34.00" fill="#dc3b07"/>
<rect x="620.75" y="351.00" width="379.75" height="34.00" fill="#d83706"/>
<rect x="629.10" y="351.00" width="371.40" height="34.00" fill="#d43305"/>
<rect x="637.44" y="351.00" width="363.06" height="34.00" fill="#d02f05"/>
<rect x="645.78" y="351.00" width="354.72" height="34.00" fill="#cc2b04"/>
<rect x="654.12" y="351.00" width="346.38" height="34.00" fill="#ca2a04"/>
<rect x="662.46" y="351.00" width="338.04" height="34.00" fill="#c52603"/>
<rect x="670.80" y="351.00" width="329.70" height="34.00" fill="#c12302"/>
<rect x="679.15" y="351.00" width="321.35" height="34.00" fill="#bc2002"/>
<rect x="687.49" y="351.00" width="313.01" height="34.00" fill="#b71d02"/>
<rect x="695.83" y="351.00" width="304.67" height="34.00" fill="#b41b01"/>
<rect x="704.17" y="351.00" width="296.33" height="34.00" fill="#b21a01"/>
<rect x="745.88" y="351.00" width="254.62" height="34.00" fill="#b41b01"/>
<rect x="754.22" y="351.00" width="246.28" height="34.00" fill="#bc2002"/>
<rect x="762.56" y="351.00" width="237.94" height="34.00" fill="#cc2b04"/>
<rect x="770.90" y="351.00" width="229.60" height="34.00" fill="#da3907"/>
<rect x="779.25" y="351.00" width="221.25" height="34.00" fill="#e7490c"/>
<rect x="787.59" y="351.00" width="212.91" height="34.00" fill="#f56918"/>
<rect x="795.93" y="351.00" width="204.57" height="34.00" fill="#fea130"/>
<rect x="804.27" y="351.00" width="196.23" height="34.00" fill="#eecf3a"/>
<rect x="812.61" y="351.00" width="187.89" height="34.00" fill="#b4f836"/>
<rect x="820.95" y="351.00" width="179.55" height="34.00" fill="#3cf58e"/>
<rect x="829.30" y="351.00" width="171.20" height="34.00" fill="#1ad2d2"/>
<rect x="837.64" y="351.00" width="162.86" height="34.00" fill="#3d9efe"/>
<rect x="845.98" y="351.00" width="154.52" height="34.00" fill="#4778f0"/>
<rect x="854.32" y="351.00" width="146.18" height="34.00" fill="#455ccf"/>
<rect x="862.66" y="351.00" width="137.84" height="34.00" fill="#424bb5"/>
<rect x="871.00" y="351.00" width="129.50" height="34.00" fill="#4040a2"/>
<rect x="879.35" y="351.00" width="121.15" height="34.00" fill="#3f3b97"/>
<rect x="896.03" y="351.00" width="104.47" height="34.00" fill="#3f3e9c"/>
<rect x="904.37" y="351.00" width="96.13" height="34.00" fill="#4249b1"/>
<rect x="912.71" y="351.00" width="87.79" height="34.00" fill="#4456c7"/>
<rect x="921.05" y="351.00" width="79.45" height="34.00" fill="#4666dd"/>
<rect x="929.40" y="351.00" width="71.10" height="34.00" fill="#467df4"/>
<rect x="937.74" y="351.00" width="62.76" height="34.00" fill="#4294ff"/>
<rect x="946.08" y="351.00" width="54.42" height="34.00" fill="#2fb2f4"/>
<rect x="954.42" y="351.00" width="46.08" height="34.00" fill="#1ccdd8"/>
<rect x="962.76" y="351.00" width="37.74" height="34.00" fill="#1ae4b6"/>
<rect x="971.10" y="351.00" width="29.40" height="34.00" fill="#35f394"/>
<rect x="979.45" y="351.00" width="21.05" height="34.00" fill="#5dfc6f"/>
<rect x="987.79" y="351.00" width="12.71" height="34.00" fill="#80ff53"/>
<rect x="996.13" y="351.00" width="4.37" height="34.00" fill="#9cfe40"/>
<rect x="99.40" y="385.00" width="901.10" height="33.00" fill="#4451bf"/>
<rect x="103.57" y="385.00" width="896.93" height="33.00" fill="#4454c3"/>
<rect x="111.91" y="385.00" width="888.59" height="33.00" fill="#4456c7"/>
<rect x="120.25" y="385.00" width="880.25" height="33.00" fill="#4559cb"/>
<rect x="128.60" y="385.00" width="871.90" height="33.00" fill="#455ed3"/>
<rect x="136.94" y="385.00" width="863.56" height="33.00" fill="#4661d6"/>
<rect x="145.28" y="385.00" width="855.22" height="33.00" fill="#4666dd"/>
<rect x="153.62" y="385.00" width="846.88" height="33.00" fill="#4669e0"/>
<rect x="161.96" y="385.00" width="838.54" height="33.00" fill="#466be3"/>
<rect x="170.30" y="385.00" width="830.20" height="33.00" fill="#476ee6"/>
<rect x="186.99" y="385.00" width="813.51" height="33.00" fill="#4771e9"/>
<rect x="195.33" y="385.00" width="805.17" height="33.00" fill="#4773eb"/>
<rect x="203.67" y="385.00" width="796.83" height="33.00" fill="#4778f0"/>
<rect x="212.01" y="385.00" width="788.49" height="33.00" fill="#4685fa"/>
<rect x="220.35" y="385.00" width="780.15" height="33.00" fill="#448ffe"/>
<rect x="228.70" y="385.00" width="771.80" height="33.00" fill="#4099ff"/>
<rect x="237.04" y="385.00" width="763.46" height="33.00" fill="#35abf8"/>
<rect x="245.38" y="385.00" width="755.12" height="33.00" fill="#20c7df"/>
<rect x="253.72" y="385.00" width="746.78" height="33.00" fill="#1ae4b6"/>
<rect x="262.06" y="385.00" width="738.44" height="33.00" fill="#59fb73"/>
<rect x="270.40" y="385.00" width="730.10" height="33.00" fill="#a4fc3c"/>
<rect x="278.75" y="385.00" width="721.75" height="33.00" fill="#dfdf37"/>
<rect x="287.09" y="385.00" width="713.41" height="33.00" fill="#faba39"/>
<rect x="295.43" y="385.00" width="705.07" height="33.00" fill="#fe9029"/>
<rect x="303.77" y="385.00" width="696.73" height="33.00" fill="#f56918"/>
<rect x="312.11" y="385.00" width="688.39" height="33.00" fill="#eb500e"/>
<rect x="320.45" y="385.00" width="680.05" height="33.00" fill="#e14109"/>
<rect x="328.80" y="385.00" width="671.70" height="33.00" fill="#d83706"/>
<rect x="337.14" y="385.00" width="663.36" height="33.00" fill="#d43305"/>
<rect x="345.48" y="385.00" width="655.02" height="33.00" fill="#d63506"/>
<rect x="353.82" y="385.00" width="646.68" height="33.00" fill="#e14109"/>
<rect x="362.16" y="385.00" width="638.34" height="33.00" fill="#eb500e"/>
<rect x="370.50" y="385.00" width="630.00" height="33.00" fill="#f56918"/>
<rect x="378.85" y="385.00" width="621.65" height="33.00" fill="#fe9029"/>
<rect x="387.19" y="385.00" width="613.31" height="33.00" fill="#fdac34"/>
<rect x="395.53" y="385.00" width="604.97" height="33.00" fill="#fbb637"/>
<rect x="403.87" y="385.00" width="596.63" height="33.00" fill="#f2c93a"/>
<rect x="412.21" y="385.00" width="588.29" height="33.00" fill="#e7d739"/>
<rect x="420.55" y="385.00" width="579.95" height="33.00" fill="#d9e436"/>
<rect x="428.90" y="385.00" width="571.60" height="33.00" fill="#cdec34"/>
<rect x="437.24" y="385.00" width="563.26" height="33.00" fill="#cbed34"/>
<rect x="445.58" y="385.00" width="554.92" height="33.00" fill="#cdec34"/>
<rect x="453.92" y="385.00" width="546.58" height="33.00" fill="#d9e436"/>
<rect x="462.26" y="385.00" width="538.24" height="33.00" fill="#ebd339"/>
<rect x="470.60" y="385.00" width="529.90" height="33.00" fill="#f6c33a"/>
<rect x="478.95" y="385.00" width="521.55" height="33.00" fill="#fdac34"/>
<rect x="487.29" y="385.00" width="513.21" height="33.00" fill="#fe932a"/>
<rect x="495.63" y="385.00" width="504.87" height="33.00" fill="#fa7b1f"/>
<rect x="503.97" y="385.00" width="496.53" height="33.00" fill="#f46617"/>
<rect x="512.31" y="385.00" width="488.19" height="33.00" fill="#ed5510"/>
<rect x="520.65" y="385.00" width="479.85" height="33.00" fill="#e7490c"/>
<rect x="529.00" y="385.00" width="471.50" height="33.00" fill="#e14109"/>
<rect x="537.34" y="385.00" width="463.16" height="33.00" fill="#df3f08"/>
<rect x="545.68" y="385.00" width="454.82" height="33.00" fill="#dd3d08"/>
<rect x="554.02" y="385.00" width="446.48" height="33.00" fill="#dc3b07"/>
<rect x="562.36" y="385.00" width="438.14" height="33.00" fill="#da3907"/>
<rect x="595.73" y="385.00" width="404.77" height="33.00" fill="#d83706"/>
<rect x="604.07" y="385.00" width="396.43" height="33.00" fill="#d63506"/>
<rect x="612.41" y="385.00" width="388.09" height="33.00" fill="#d43305"/>
<rect x="620.75" y="385.00" width="379.75" height="33.00" fill="#d02f05"/>
<rect x="629.10" y="385.00" width="371.40" height="33.00" fill="#cc2b04"/>
<rect x="637.44" y="385.00" width="363.06" height="33.00" fill="#ca2a04"/>
<rect x="645.78" y="385.00" width="354.72" height="33.00" fill="#c52603"/>
<rect x="654.12" y="385.00" width="346.38" height="33.00" fill="#c12302"/>
<rect x="662.46" y="385.00" width="338.04" height="33.00" fill="#bc2002"/>
<rect x="670.80" y="385.00" width="329.70" height="33.00" fill="#b71d02"/>
<rect x="679.15" y="385.00" width="321.35" height="33.00" fill="#b41b01"/>
<rect x="687.49" y="385.00" width="313.01" height="33.00" fill="#af1801"/>
<rect x="695.83" y="385.00" width="304.67" height="33.00" fill="#ac1701"/>
<rect x="704.17" y="385.00" width="296.33" height="33.00" fill="#a91601"/>
<rect x="754.22" y="385.00" width="246.28" height="33.00" fill="#b41b01"/>
<rect x="762.56" y="385.00" width="237.94" height="33.00" fill="#c12302"/>
<rect x="770.90" y="385.00" width="229.60" height="33.00" fill="#d02f05"/>
<rect x="779.25" y="385.00" width="221.25" height="33.00" fill="#df3f08"/>
<rect x="787.59" y="385.00" width="212.91" height="33.00" fill="#ed5510"/>
<rect x="795.93" y="385.00" width="204.57" height="33.00" fill="#fa7b1f"/>
<rect x="804.27" y="385.00" width="196.23" height="33.00" fill="#fdac34"/>
<rect x="812.61" y="385.00" width="187.89" height="33.00" fill="#e1dd37"/>
<rect x="820.95" y="385.00" width="179.55" height="33.00" fill="#9ffd3f"/>
<rect x="829.30" y="385.00" width="171.20" height="33.00" fill="#46f884"/>
<rect x="837.64" y="385.00" width="162.86" height="33.00" fill="#19d5cd"/>
<rect x="845.98" y="385.00" width="154.52" height="33.00" fill="#38a5fb"/>
<rect x="854.32" y="385.00" width="146.18" height="33.00" fill="#477bf2"/>
<rect x="862.66" y="385.00" width="137.84" height="33.00" fill="#4666dd"/>
<rect x="871.00" y="385.00" width="129.50" height="33.00" fill="#4451bf"/>
<rect x="879.35" y="385.00" width="121.15" height="33.00" fill="#424bb5"/>
<rect x="887.69" y="385.00" width="112.81" height="33.00" fill="#4249b1"/>
<rect x="896.03" y="385.00" width="104.47" height="33.00" fill="#434eba"/>
<rect x="904.37" y="385.00" width="96.13" height="33.00" fill="#4559cb"/>
<rect x="912.71" y="385.00" width="87.79" height="33.00" fill="#466be3"/>
<rect x="921.05" y="385.00" width="79.45" height="33.00" fill="#4680f6"/>
<rect x="929.40" y="385.00" width="71.10" height="33.00" fill="#3e9bfe"/>
<rect x="937.74" y="385.00" width="62.76" height="33.00" fill="#2eb4f2"/>
<rect x="946.08" y="385.00" width="54.42" height="33.00" fill="#1ad2d2"/>
<rect x="954.42" y="385.00" width="46.08" height="33.00" fill="#1de7b2"/>
<rect x="962.76" y="385.00" width="37.74" height="33.00" fill="#35f394"/>
<rect x="971.10" y="385.00" width="29.40" height="33.00" fill="#5dfc6f"/>
<rect x="979.45" y="385.00" width="21.05" height="33.00" fill="#84ff51"/>
<rect x="987.79" y="385.00" width="12.71" height="33.00" fill="#a7fc3a"/>
<rect x="996.13" y="385.00" width="4.37" height="33.00" fill="#bcf534"/>
<rect x="99.40" y="418.00" width="901.10" height="33.00" fill="#4451bf"/>
<rect x="103.57" y="418.00" width="896.93" height="33.00" fill="#4454c3"/>
<rect x="111.91" y="418.00" width="888.59" height="33.00" fill="#4456c7"/>
<rect x="120.25" y="418.00" width="880.25" height="33.00" fill="#4559cb"/>
<rect x="128.60" y="418.00" width="871.90" height="33.00" fill="#455ed3"/>
<rect x="136.94" y="418.00" width="863.56" height="33.00" fill="#4661d6"/>
<rect x="145.28" y="418.00" width="855.22" height="33.00" fill="#4666dd"/>
<rect x="153.62" y="418.00" width="846.88" height="33.00" fill="#466be3"/>
<rect x="161.96" y="418.00" width="838.54" height="33.00" fill="#476ee6"/>
<rect x="178.65" y="418.00" width="821.85" height="33.00" fill="#4771e9"/>
<rect x="186.99" y="418.00" width="813.51" height="33.00" fill="#4773eb"/>
<rect x="195.33" y="418.00" width="805.17" height="33.00" fill="#4776ee"/>
<rect x="203.67" y="418.00" width="796.83" height="33.00" fill="#467df4"/>
<rect x="212.01" y="418.00" width="788.49" height="33.00" fill="#458afc"/>
<rect x="220.35" y="418.00" width="780.15" height="33.00" fill="#4196ff"/>
<rect x="228.70" y="418.00" width="771.80" height="33.00" fill="#3aa3fc"/>
<rect x="237.04" y="418.00" width="763.46" height="33.00" fill="#2eb4f2"/>
<rect x="245.38" y="418.00" width="755.12" height="33.00" fill="#1ad4d0"/>
<rect x="253.72" y="418.00" width="746.78" height="33.00" fill="#32f298"/>
<rect x="262.06" y="418.00" width="738.44" height="33.00" fill="#6dfe62"/>
<rect x="270.40" y="418.00" width="730.10" height="33.00" fill="#a4fc3c"/>
<rect x="278.75" y="418.00" width="721.75" height="33.00" fill="#dfdf37"/>
<rect x="287.09" y="418.00" width="713.41" height="33.00" fill="#faba39"/>
<rect x="295.43" y="418.00" width="705.07" height="33.00" fill="#fe9029"/>
<rect x="303.77" y="418.00" width="696.73" height="33.00" fill="#f56918"/>
<rect x="312.11" y="418.00" width="688.39" height="33.00" fill="#eb500e"/>
<rect x="320.45" y="418.00" width="680.05" height="33.00" fill="#e14109"/>
<rect x="328.80" y="418.00" width="671.70" height="33.00" fill="#d83706"/>
<rect x="337.14" y="418.00" width="663.36" height="33.00" fill="#d43305"/>
<rect x="345.48" y="418.00" width="655.02" height="33.00" fill="#d63506"/>
<rect x="353.82" y="418.00" width="646.68" height="33.00" fill="#e14109"/>
<rect x="362.16" y="418.00" width="638.34" height="33.00" fill="#eb500e"/>
<rect x="370.50" y="418.00" width="630.00" height="33.00" fill="#f56918"/>
<rect x="378.85" y="418.00" width="621.65" height="33.00" fill="#fe9029"/>
<rect x="387.19" y="418.00" width="613.31" height="33.00" fill="#fdac34"/>
<rect x="395.53" y="418.00" width="604.97" height="33.00" fill="#fbb637"/>
<rect x="403.87" y="418.00" width="596.63" height="33.00" fill="#f6c33a"/>
<rect x="412.21" y="418.00" width="588.29" height="33.00" fill="#f1cb3a"/>
<rect x="420.55" y="418.00" width="579.95" height="33.00" fill="#e9d539"/>
<rect x="428.90" y="418.00" width="571.60" height="33.00" fill="#e1dd37"/>
<rect x="445.58" y="418.00" width="554.92" height="33.00" fill="#e7d739"/>
<rect x="453.92" y="418.00" width="546.58" height="33.00" fill="#f1cb3a"/>
<rect x="462.26" y="418.00" width="538.24" height="33.00" fill="#fbb637"/>
<rect x="470.60" y="418.00" width="529.90" height="33.00" fill="#fe9e2f"/>
<rect x="478.95" y="418.00" width="521.55" height="33.00" fill="#fc8423"/>
<rect x="487.29" y="418.00" width="513.21" height="33.00" fill="#f56918"/>
<rect x="495.63" y="418.00" width="504.87" height="33.00" fill="#ed5510"/>
<rect x="503.97" y="418.00" width="496.53" height="33.00" fill="#e7490c"/>
<rect x="512.31" y="418.00" width="488.19" height="33.00" fill="#e14109"/>
<rect x="520.65" y="418.00" width="479.85" height="33.00" fill="#dd3d08"/>
<rect x="529.00" y="418.00" width="471.50" height="33.00" fill="#da3907"/>
<rect x="537.34" y="418.00" width="463.16" height="33.00" fill="#d83706"/>
<rect x="545.68" y="418.00" width="454.82" height="33.00" fill="#d63506"/>
<rect x="562.36" y="418.00" width="438.14" height="33.00" fill="#d83706"/>
<rect x="570.70" y="418.00" width="429.80" height="33.00" fill="#da3907"/>
<rect x="579.05" y="418.00" width="421.45" height="33.00" fill="#dc3b07"/>
<rect x="595.73" y="418.00" width="404.77" height="33.00" fill="#da3907"/>
<rect x="604.07" y="418.00" width="396.43" height="33.00" fill="#d83706"/>
<rect x="612.41" y="418.00" width="388.09" height="33.00" fill="#d43305"/>
<rect x="620.75" y="418.00" width="379.75" height="33.00" fill="#d02f05"/>
<rect x="629.10" y="418.00" width="371.40" height="33.00" fill="#cc2b04"/>
<rect x="637.44" y="418.00" width="363.06" height="33.00" fill="#c82803"/>
<rect x="645.78" y="418.00" width="354.72" height="33.00" fill="#c32503"/>
<rect x="654.12" y="418.00" width="346.38" height="33.00" fill="#be2102"/>
<rect x="662.46" y="418.00" width="338.04" height="33.00" fill="#b71d02"/>
<rect x="670.80" y="418.00" width="329.70" height="33.00" fill="#b21a01"/>
<rect x="679.15" y="418.00" width="321.35" height="33.00" fill="#ac1701"/>
<rect x="687.49" y="418.00" width="313.01" height="33.00" fill="#a71401"/>
<rect x="695.83" y="418.00" width="304.67" height="33.00" fill="#a41301"/>
<rect x="704.17" y="418.00" width="296.33" height="33.00" fill="#9e1001"/>
<rect x="745.88" y="418.00" width="254.62" height="33.00" fill="#a11201"/>
<rect x="754.22" y="418.00" width="246.28" height="33.00" fill="#ac1701"/>
<rect x="762.56" y="418.00" width="237.94" height="33.00" fill="#b91e02"/>
<rect x="770.90" y="418.00" width="229.60" height="33.00" fill="#ca2a04"/>
<rect x="779.25" y="418.00" width="221.25" height="33.00" fill="#d83706"/>
<rect x="787.59" y="418.00" width="212.91" height="33.00" fill="#e5470b"/>
<rect x="795.93" y="418.00" width="204.57" height="33.00" fill="#f46617"/>
<rect x="804.27" y="418.00" width="196.23" height="33.00" fill="#fe9029"/>
<rect x="812.61" y="418.00" width="187.89" height="33.00" fill="#f6c33a"/>
<rect x="820.95" y="418.00" width="179.55" height="33.00" fill="#d4e735"/>
<rect x="829.30" y="418.00" width="171.20" height="33.00" fill="#9cfe40"/>
<rect x="837.64" y="418.00" width="162.86" height="33.00" fill="#46f884"/>
<rect x="845.98" y="418.00" width="154.52" height="33.00" fill="#19d5cd"/>
<rect x="854.32" y="418.00" width="146.18" height="33.00" fill="#3ba0fd"/>
<rect x="862.66" y="418.00" width="137.84" height="33.00" fill="#4685fa"/>
<rect x="871.00" y="418.00" width="129.50" height="33.00" fill="#4669e0"/>
<rect x="879.35" y="418.00" width="121.15" height="33.00" fill="#4456c7"/>
<rect x="896.03" y="418.00" width="104.47" height="33.00" fill="#455ccf"/>
<rect x="904.37" y="418.00" width="96.13" height="33.00" fill="#466be3"/>
<rect x="912.71" y="418.00" width="87.79" height="33.00" fill="#4680f6"/>
<rect x="921.05" y="418.00" width="79.45" height="33.00" fill="#3e9bfe"/>
<rect x="929.40" y="418.00" width="71.10" height="33.00" fill="#2cb7f0"/>
<rect x="937.74" y="418.00" width="62.76" height="33.00" fill="#1ad4d0"/>
<rect x="946.08" y="418.00" width="54.42" height="33.00" fill="#1fe9af"/>
<rect x="954.42" y="418.00" width="46.08" height="33.00" fill="#38f491"/>
<rect x="962.76" y="418.00" width="37.74" height="33.00" fill="#59fb73"/>
<rect x="971.10" y="418.00" width="29.40" height="33.00" fill="#80ff53"/>
<rect x="979.45" y="418.00" width="21.05" height="33.00" fill="#a4fc3c"/>
<rect x="987.79" y="418.00" width="12.71" height="33.00" fill="#b9f635"/>
<rect x="996.13" y="418.00" width="4.37" height="33.00" fill="#cbed34"/>
<rect x="99.40" y="451.00" width="901.10" height="34.00" fill="#4451bf"/>
<rect x="103.57" y="451.00" width="896.93" height="34.00" fill="#4454c3"/>
<rect x="111.91" y="451.00" width="888.59" height="34.00" fill="#4456c7"/>
<rect x="120.25" y="451.00" width="880.25" height="34.00" fill="#4559cb"/>
<rect x="128.60" y="451.00" width="871.90" height="34.00" fill="#455ed3"/>
<rect x="136.94" y="451.00" width="863.56" height="34.00" fill="#4661d6"/>
<rect x="145.28" y="451.00" width="855.22" height="34.00" fill="#4666dd"/>
<rect x="153.62" y="451.00" width="846.88" height="34.00" fill="#476ee6"/>
<rect x="161.96" y="451.00" width="838.54" height="34.00" fill="#4771e9"/>
<rect x="170.30" y="451.00" width="830.20" height="34.00" fill="#4773eb"/>
<rect x="186.99" y="451.00" width="813.51" height="34.00" fill="#4778f0"/>
<rect x="195.33" y="451.00" width="805.17" height="34.00" fill="#467df4"/>
<rect x="203.67" y="451.00" width="796.83" height="34.00" fill="#4687fb"/>
<rect x="212.01" y="451.00" width="788.49" height="34.00" fill="#4294ff"/>
<rect x="220.35" y="451.00" width="780.15" height="34.00" fill="#3d9efe"/>
<rect x="228.70" y="451.00" width="771.80" height="34.00" fill="#33adf7"/>
<rect x="237.04" y="451.00" width="763.46" height="34.00" fill="#23c3e4"/>
<rect x="245.38" y="451.00" width="755.12" height="34.00" fill="#18dec0"/>
<rect x="253.72" y="451.00" width="746.78" height="34.00" fill="#38f491"/>
<rect x="262.06" y="451.00" width="738.44" height="34.00" fill="#71fe5f"/>
<rect x="270.40" y="451.00" width="730.10" height="34.00" fill="#a7fc3a"/>
<rect x="278.75" y="451.00" width="721.75" height="34.00" fill="#e1dd37"/>
<rect x="287.09" y="451.00" width="713.41" height="34.00" fill="#faba39"/>
<rect x="295.43" y="451.00" width="705.07" height="34.00" fill="#fe9029"/>
<rect x="303.77" y="451.00" width="696.73" height="34.00" fill="#f56918"/>
<rect x="312.11" y="451.00" width="688.39" height="34.00" fill="#eb500e"/>
<rect x="320.45" y="451.00" width="680.05" height="34.00" fill="#e14109"/>
<rect x="328.80" y="451.00" width="671.70" height="34.00" fill="#d83706"/>
<rect x="337.14" y="451.00" width="663.36" height="34.00" fill="#d43305"/>
<rect x="345.48" y="451.00" width="655.02" height="34.00" fill="#d63506"/>
<rect x="353.82" y="451.00" width="646.68" height="34.00" fill="#e14109"/>
<rect x="362.16" y="451.00" width="638.34" height="34.00" fill="#eb500e"/>
<rect x="370.50" y="451.00" width="630.00" height="34.00" fill="#f56918"/>
<rect x="378.85" y="451.00" width="621.65" height="34.00" fill="#fe9029"/>
<rect x="387.19" y="451.00" width="613.31" height="34.00" fill="#fdac34"/>
<rect x="395.53" y="451.00" width="604.97" height="34.00" fill="#fcb136"/>
<rect x="403.87" y="451.00" width="596.63" height="34.00" fill="#faba39"/>
<rect x="412.21" y="451.00" width="588.29" height="34.00" fill="#f5c53a"/>
<rect x="420.55" y="451.00" width="579.95" height="34.00" fill="#f2c93a"/>
<rect x="428.90" y="451.00" width="571.60" height="34.00" fill="#f1cb3a"/>
<rect x="445.58" y="451.00" width="554.92" height="34.00" fill="#f5c53a"/>
<rect x="453.92" y="451.00" width="546.58" height="34.00" fill="#fbb637"/>
<rect x="462.26" y="451.00" width="538.24" height="34.00" fill="#fe9e2f"/>
<rect x="470.60" y="451.00" width="529.90" height="34.00" fill="#fb8122"/>
<rect x="478.95" y="451.00" width="521.55" height="34.00" fill="#f46617"/>
<rect x="487.29" y="451.00" width="513.21" height="34.00" fill="#ed5510"/>
<rect x="495.63" y="451.00" width="504.87" height="34.00" fill="#e5470b"/>
<rect x="503.97" y="451.00" width="496.53" height="34.00" fill="#e14109"/>
<rect x="512.31" y="451.00" width="488.19" height="34.00" fill="#dc3b07"/>
<rect x="520.65" y="451.00" width="479.85" height="34.00" fill="#d83706"/>
<rect x="529.00" y="451.00" width="471.50" height="34.00" fill="#d43305"/>
<rect x="537.34" y="451.00" width="463.16" height="34.00" fill="#d23105"/>
<rect x="545.68" y="451.00" width="454.82" height="34.00" fill="#d02f05"/>
<rect x="562.36" y="451.00" width="438.14" height="34.00" fill="#d23105"/>
<rect x="570.70" y="451.00" width="429.80" height="34.00" fill="#d43305"/>
<rect x="604.07" y="451.00" width="396.43" height="34.00" fill="#d02f05"/>
<rect x="612.41" y="451.00" width="388.09" height="34.00" fill="#ce2d04"/>
<rect x="620.75" y="451.00" width="379.75" height="34.00" fill="#ca2a04"/>
<rect x="629.10" y="451.00" width="371.40" height="34.00" fill="#c52603"/>
<rect x="637.44" y="451.00" width="363.06" height="34.00" fill="#c12302"/>
<rect x="645.78" y="451.00" width="354.72" height="34.00" fill="#bc2002"/>
<rect x="654.12" y="451.00" width="346.38" height="34.00" fill="#b41b01"/>
<rect x="662.46" y="451.00" width="338.04" height="34.00" fill="#af1801"/>
<rect x="670.80" y="451.00" width="329.70" height="34.00" fill="#a91601"/>
<rect x="679.15" y="451.00" width="321.35" height="34.00" fill="#a41301"/>
<rect x="687.49" y="451.00" width="313.01" height="34.00" fill="#9e1001"/>
<rect x="695.83" y="451.00" width="304.67" height="34.00" fill="#9b0f01"/>
<rect x="704.17" y="451.00" width="296.33" height="34.00" fill="#950d01"/>
<rect x="745.88" y="451.00" width="254.62" height="34.00" fill="#980e01"/>
<rect x="754.22" y="451.00" width="246.28" height="34.00" fill="#a11201"/>
<rect x="762.56" y="451.00" width="237.94" height="34.00" fill="#af1801"/>
<rect x="770.90" y="451.00" width="229.60" height="34.00" fill="#c12302"/>
<rect x="779.25" y="451.00" width="221.25" height="34.00" fill="#d02f05"/>
<rect x="787.59" y="451.00" width="212.91" height="34.00" fill="#df3f08"/>
<rect x="795.93" y="451.00" width="204.57" height="34.00" fill="#ed5510"/>
<rect x="804.27" y="451.00" width="196.23" height="34.00" fill="#f9751d"/>
<rect x="812.61" y="451.00" width="187.89" height="34.00" fill="#fea130"/>
<rect x="820.95" y="451.00" width="179.55" height="34.00" fill="#f2c93a"/>
<rect x="829.30" y="451.00" width="171.20" height="34.00" fill="#cdec34"/>
<rect x="837.64" y="451.00" width="162.86" height="34.00" fill="#9cfe40"/>
<rect x="845.98" y="451.00" width="154.52" height="34.00" fill="#4ef97d"/>
<rect x="854.32" y="451.00" width="146.18" height="34.00" fill="#18dec0"/>
<rect x="862.66" y="451.00" width="137.84" height="34.00" fill="#27bee9"/>
<rect x="871.00" y="451.00" width="129.50" height="34.00" fill="#4294ff"/>
<rect x="879.35" y="451.00" width="121.15" height="34.00" fill="#477bf2"/>
<rect x="887.69" y="451.00" width="112.81" height="34.00" fill="#4773eb"/>
<rect x="896.03" y="451.00" width="104.47" height="34.00" fill="#4778f0"/>
<rect x="904.37" y="451.00" width="96.13" height="34.00" fill="#4687fb"/>
<rect x="912.71" y="451.00" width="87.79" height="34.00" fill="#3ba0fd"/>
<rect x="921.05" y="451.00" width="79.45" height="34.00" fill="#27bee9"/>
<rect x="929.40" y="451.00" width="71.10" height="34.00" fill="#18dbc5"/>
<rect x="937.74" y="451.00" width="62.76" height="34.00" fill="#27eea4"/>
<rect x="946.08" y="451.00" width="54.42" height="34.00" fill="#46f884"/>
<rect x="954.42" y="451.00" width="46.08" height="34.00" fill="#6dfe62"/>
<rect x="962.76" y="451.00" width="37.74" height="34.00" fill="#99fe42"/>
<rect x="971.10" y="451.00" width="29.40" height="34.00" fill="#b4f836"/>
<rect x="979.45" y="451.00" width="21.05" height="34.00" fill="#cdec34"/>
<rect x="987.79" y="451.00" width="12.71" height="34.00" fill="#dfdf37"/>
<rect x="996.13" y="451.00" width="4.37" height="34.00" fill="#eecf3a"/>
<rect x="99.40" y="485.00" width="901.10" height="33.00" fill="#4451bf"/>
<rect x="103.57" y="485.00" width="896.93" height="33.00" fill="#4454c3"/>
<rect x="111.91" y="485.00" width="888.59" height="33.00" fill="#4456c7"/>
<rect x="120.25" y="485.00" width="880.25" height="33.00" fill="#4559cb"/>
<rect x="128.60" y="485.00" width="871.90" height="33.00" fill="#455ed3"/>
<rect x="136.94" y="485.00" width="863.56" height="33.00" fill="#4661d6"/>
<rect x="145.28" y="485.00" width="855.22" height="33.00" fill="#4669e0"/>
<rect x="153.62" y="485.00" width="846.88" height="33.00" fill="#4771e9"/>
<rect x="170.30" y="485.00" width="830.20" height="33.00" fill="#4776ee"/>
<rect x="186.99" y="485.00" width="813.51" height="33.00" fill="#477bf2"/>
<rect x="195.33" y="485.00" width="805.17" height="33.00" fill="#4682f8"/>
<rect x="203.67" y="485.00" width="796.83" height="33.00" fill="#448ffe"/>
<rect x="212.01" y="485.00" width="788.49" height="33.00" fill="#3e9bfe"/>
<rect x="220.35" y="485.00" width="780.15" height="33.00" fill="#37a8fa"/>
<rect x="228.70" y="485.00" width="771.80" height="33.00" fill="#2cb7f0"/>
<rect x="237.04" y="485.00" width="763.46" height="33.00" fill="#1ad2d2"/>
<rect x="245.38" y="485.00" width="755.12" height="33.00" fill="#20eaac"/>
<rect x="253.72" y="485.00" width="746.78" height="33.00" fill="#43f787"/>
<rect x="262.06" y="485.00" width="738.44" height="33.00" fill="#79fe59"/>
<rect x="270.40" y="485.00" width="730.10" height="33.00" fill="#a9fb39"/>
<rect x="278.75" y="485.00" width="721.75" height="33.00" fill="#e1dd37"/>
<rect x="287.09" y="485.00" width="713.41" height="33.00" fill="#faba39"/>
<rect x="295.43" y="485.00" width="705.07" height="33.00" fill="#fe9029"/>
<rect x="303.77" y="485.00" width="696.73" height="33.00" fill="#f56918"/>
<rect x="312.11" y="485.00" width="688.39" height="33.00" fill="#eb500e"/>
<rect x="320.45" y="485.00" width="680.05" height="33.00" fill="#e14109"/>
<rect x="328.80" y="485.00" width="671.70" height="33.00" fill="#d83706"/>
<rect x="337.14" y="485.00" width="663.36" height="33.00" fill="#d43305"/>
<rect x="345.48" y="485.00" width="655.02" height="33.00" fill="#d63506"/>
<rect x="353.82" y="485.00" width="646.68" height="33.00" fill="#e14109"/>
<rect x="362.16" y="485.00" width="638.34" height="33.00" fill="#eb500e"/>
<rect x="370.50" y="485.00" width="630.00" height="33.00" fill="#f56918"/>
<rect x="378.85" y="485.00" width="621.65" height="33.00" fill="#fe9029"/>
<rect x="387.19" y="485.00" width="613.31" height="33.00" fill="#fdac34"/>
<rect x="395.53" y="485.00" width="604.97" height="33.00" fill="#fea933"/>
<rect x="403.87" y="485.00" width="596.63" height="33.00" fill="#fcb136"/>
<rect x="412.21" y="485.00" width="588.29" height="33.00" fill="#fbb838"/>
<rect x="420.55" y="485.00" width="579.95" height="33.00" fill="#f9bc39"/>
<rect x="437.24" y="485.00" width="563.26" height="33.00" fill="#fbb838"/>
<rect x="445.58" y="485.00" width="554.92" height="33.00" fill="#fdac34"/>
<rect x="453.92" y="485.00" width="546.58" height="33.00" fill="#fe992c"/>
<rect x="462.26" y="485.00" width="538.24" height="33.00" fill="#fb7e21"/>
<rect x="470.60" y="485.00" width="529.90" height="33.00" fill="#f36315"/>
<rect x="478.95" y="485.00" width="521.55" height="33.00" fill="#ec530f"/>
<rect x="487.29" y="485.00" width="513.21" height="33.00" fill="#e5470b"/>
<rect x="495.63" y="485.00" width="504.87" height="33.00" fill="#df3f08"/>
<rect x="503.97" y="485.00" width="496.53" height="33.00" fill="#da3907"/>
<rect x="512.31" y="485.00" width="488.19" height="33.00" fill="#d43305"/>
<rect x="520.65" y="485.00" width="479.85" height="33.00" fill="#d02f05"/>
<rect x="529.00" y="485.00" width="471.50" height="33.00" fill="#cc2b04"/>
<rect x="537.34" y="485.00" width="463.16" height="33.00" fill="#ca2a04"/>
<rect x="570.70" y="485.00" width="429.80" height="33.00" fill="#cc2b04"/>
<rect x="604.07" y="485.00" width="396.43" height="33.00" fill="#ca2a04"/>
<rect x="612.41" y="485.00" width="388.09" height="33.00" fill="#c52603"/>
<rect x="620.75" y="485.00" width="379.75" height="33.00" fill="#c12302"/>
<rect x="629.10" y="485.00" width="371.40" height="33.00" fill="#be2102"/>
<rect x="637.44" y="485.00" width="363.06" height="33.00" fill="#b71d02"/>
<rect x="645.78" y="485.00" width="354.72" height="33.00" fill="#b21a01"/>
<rect x="654.12" y="485.00" width="346.38" height="33.00" fill="#ac1701"/>
<rect x="662.46" y="485.00" width="338.04" height="33.00" fill="#a71401"/>
<rect x="670.80" y="485.00" width="329.70" height="33.00" fill="#a11201"/>
<rect x="679.15" y="485.00" width="321.35" height="33.00" fill="#9b0f01"/>
<rect x="687.49" y="485.00" width="313.01" height="33.00" fill="#950d01"/>
<rect x="695.83" y="485.00" width="304.67" height="33.00" fill="#920b01"/>
<rect x="704.17" y="485.00" width="296.33" height="33.00" fill="#8b0902"/>
<rect x="745.88" y="485.00" width="254.62" height="33.00" fill="#8e0a01"/>
<rect x="754.22" y="485.00" width="246.28" height="33.00" fill="#980e01"/>
<rect x="762.56" y="485.00" width="237.94" height="33.00" fill="#a71401"/>
<rect x="770.90" y="485.00" width="229.60" height="33.00" fill="#b41b01"/>
<rect x="779.25" y="485.00" width="221.25" height="33.00" fill="#c32503"/>
<rect x="787.59" y="485.00" width="212.91" height="33.00" fill="#d43305"/>
<rect x="795.93" y="485.00" width="204.57" height="33.00" fill="#e14109"/>
<rect x="804.27" y="485.00" width="196.23" height="33.00" fill="#f05b12"/>
<rect x="812.61" y="485.00" width="187.89" height="33.00" fill="#f9751d"/>
<rect x="820.95" y="485.00" width="179.55" height="33.00" fill="#fe9e2f"/>
<rect x="829.30" y="485.00" width="171.20" height="33.00" fill="#f6c33a"/>
<rect x="837.64" y="485.00" width="162.86" height="33.00" fill="#dde037"/>
<rect x="845.98" y="485.00" width="154.52" height="33.00" fill="#b4f836"/>
<rect x="854.32" y="485.00" width="146.18" height="33.00" fill="#79fe59"/>
<rect x="862.66" y="485.00" width="137.84" height="33.00" fill="#32f298"/>
<rect x="871.00" y="485.00" width="129.50" height="33.00" fill="#1ccdd8"/>
<rect x="879.35" y="485.00" width="121.15" height="33.00" fill="#35abf8"/>
<rect x="887.69" y="485.00" width="112.81" height="33.00" fill="#3d9efe"/>
<rect x="904.37" y="485.00" width="96.13" height="33.00" fill="#37a8fa"/>
<rect x="912.71" y="485.00" width="87.79" height="33.00" fill="#25c0e7"/>
<rect x="921.05" y="485.00" width="79.45" height="33.00" fill="#18dbc5"/>
<rect x="929.40" y="485.00" width="71.10" height="33.00" fill="#2aefa1"/>
<rect x="937.74" y="485.00" width="62.76" height="33.00" fill="#4ef97d"/>
<rect x="946.08" y="485.00" width="54.42" height="33.00" fill="#7dff56"/>
<rect x="954.42" y="485.00" width="46.08" height="33.00" fill="#a4fc3c"/>
<rect x="962.76" y="485.00" width="37.74" height="33.00" fill="#c3f134"/>
<rect x="971.10" y="485.00" width="29.40" height="33.00" fill="#dde037"/>
<rect x="979.45" y="485.00" width="21.05" height="33.00" fill="#eecf3a"/>
<rect x="987.79" y="485.00" width="12.71" height="33.00" fill="#f6c33a"/>
<rect x="996.13" y="485.00" width="4.37" height="33.00" fill="#fbb838"/>
<rect x="99.40" y="518.00" width="901.10" height="17.30" fill="#4451bf"/>
<rect x="103.57" y="518.00" width="896.93" height="17.30" fill="#4454c3"/>
<rect x="111.91" y="518.00" width="888.59" height="17.30" fill="#4456c7"/>
<rect x="120.25" y="518.00" width="880.25" height="17.30" fill="#4559cb"/>
<rect x="128.60" y="518.00" width="871.90" height="17.30" fill="#455ed3"/>
<rect x="136.94" y="518.00" width="863.56" height="17.30" fill="#4661d6"/>
<rect x="145.28" y="518.00" width="855.22" height="17.30" fill="#466be3"/>
<rect x="153.62" y="518.00" width="846.88" height="17.30" fill="#4771e9"/>
<rect x="161.96" y="518.00" width="838.54" height="17.30" fill="#4776ee"/>
<rect x="170.30" y="518.00" width="830.20" height="17.30" fill="#4778f0"/>
<rect x="178.65" y="518.00" width="821.85" height="17.30" fill="#477bf2"/>
<rect x="186.99" y="518.00" width="813.51" height="17.30" fill="#4680f6"/>
<rect x="195.33" y="518.00" width="805.17" height="17.30" fill="#458afc"/>
<rect x="203.67" y="518.00" width="796.83" height="17.30" fill="#4294ff"/>
<rect x="212.01" y="518.00" width="788.49" height="17.30" fill="#3ba0fd"/>
<rect x="220.35" y="518.00" width="780.15" height="17.30" fill="#33adf7"/>
<rect x="228.70" y="518.00" width="771.80" height="17.30" fill="#27bee9"/>
<rect x="237.04" y="518.00" width="763.46" height="17.30" fill="#1ad4d0"/>
<rect x="245.38" y="518.00" width="755.12" height="17.30" fill="#22ebaa"/>
<rect x="253.72" y="518.00" width="746.78" height="17.30" fill="#46f884"/>
<rect x="262.06" y="518.00" width="738.44" height="17.30" fill="#79fe59"/>
<rect x="270.40" y="518.00" width="730.10" height="17.30" fill="#acfb38"/>
<rect x="278.75" y="518.00" width="721.75" height="17.30" fill="#e1dd37"/>
<rect x="287.09" y="518.00" width="713.41" height="17.30" fill="#faba39"/>
<rect x="295.43" y="518.00" width="705.07" height="17.30" fill="#fe9029"/>
<rect x="303.77" y="518.00" width="696.73" height="17.30" fill="#f56918"/>
<rect x="312.11" y="518.00" width="688.39" height="17.30" fill="#eb500e"/>
<rect x="320.45" y="518.00" width="680.05" height="17.30" fill="#e14109"/>
<rect x="328.80" y="518.00" width="671.70" height="17.30" fill="#d83706"/>
<rect x="337.14" y="518.00" width="663.36" height="17.30" fill="#d43305"/>
<rect x="345.48" y="518.00" width="655.02" height="17.30" fill="#d63506"/>
<rect x="353.82" y="518.00" width="646.68" height="17.30" fill="#e14109"/>
<rect x="362.16" y="518.00" width="638.34" height="17.30" fill="#eb500e"/>
<rect x="370.50" y="518.00" width="630.00" height="17.30" fill="#f56918"/>
<rect x="378.85" y="518.00" width="621.65" height="17.30" fill="#fe9029"/>
<rect x="387.19" y="518.00" width="613.31" height="17.30" fill="#fdac34"/>
<rect x="395.53" y="518.00" width="604.97" height="17.30" fill="#fea130"/>
<rect x="403.87" y="518.00" width="596.63" height="17.30" fill="#fea431"/>
<rect x="412.21" y="518.00" width="588.29" height="17.30" fill="#fea933"/>
<rect x="437.24" y="518.00" width="563.26" height="17.30" fill="#fea130"/>
<rect x="445.58" y="518.00" width="554.92" height="17.30" fill="#fe9029"/>
<rect x="453.92" y="518.00" width="546.58" height="17.30" fill="#f9781e"/>
<rect x="462.26" y="518.00" width="538.24" height="17.30" fill="#f15d13"/>
<rect x="470.60" y="518.00" width="529.90" height="17.30" fill="#ea4e0d"/>
<rect x="478.95" y="518.00" width="521.55" height="17.30" fill="#e4450a"/>
<rect x="487.29" y="518.00" width="513.21" height="17.30" fill="#dd3d08"/>
<rect x="495.63" y="518.00" width="504.87" height="17.30" fill="#d83706"/>
<rect x="503.97" y="518.00" width="496.53" height="17.30" fill="#d23105"/>
<rect x="512.31" y="518.00" width="488.19" height="17.30" fill="#ce2d04"/>
<rect x="520.65" y="518.00" width="479.85" height="17.30" fill="#ca2a04"/>
<rect x="529.00" y="518.00" width="471.50" height="17.30" fill="#c82803"/>
<rect x="537.34" y="518.00" width="463.16" height="17.30" fill="#c52603"/>
<rect x="545.68" y="518.00" width="454.82" height="17.30" fill="#c32503"/>
<rect x="562.36" y="518.00" width="438.14" height="17.30" fill="#c52603"/>
<rect x="604.07" y="518.00" width="396.43" height="17.30" fill="#c32503"/>
<rect x="612.41" y="518.00" width="388.09" height="17.30" fill="#c12302"/>
<rect x="620.75" y="518.00" width="379.75" height="17.30" fill="#bc2002"/>
<rect x="629.10" y="518.00" width="371.40" height="17.30" fill="#b71d02"/>
<rect x="637.44" y="518.00" width="363.06" height="17.30" fill="#b21a01"/>
<rect x="645.78" y="518.00" width="354.72" height="17.30" fill="#ac1701"/>
<rect x="654.12" y="518.00" width="346.38" height="17.30" fill="#a71401"/>
<rect x="662.46" y="518.00" width="338.04" height="17.30" fill="#a11201"/>
<rect x="670.80" y="518.00" width="329.70" height="17.30" fill="#9b0f01"/>
<rect x="679.15" y="518.00" width="321.35" height="17.30" fill="#950d01"/>
<rect x="687.49" y="518.00" width="313.01" height="17.30" fill="#8e0a01"/>
<rect x="695.83" y="518.00" width="304.67" height="17.30" fill="#880802"/>
<rect x="704.17" y="518.00" width="296.33" height="17.30" fill="#810602"/>
<rect x="754.22" y="518.00" width="246.28" height="17.30" fill="#8b0902"/>
<rect x="762.56" y="518.00" width="237.94" height="17.30" fill="#950d01"/>
<rect x="770.90" y="518.00" width="229.60" height="17.30" fill="#a71401"/>
<rect x="779.25" y="518.00" width="221.25" height="17.30" fill="#b41b01"/>
<rect x="787.59" y="518.00" width="212.91" height="17.30" fill="#c32503"/>
<rect x="795.93" y="518.00" width="204.57" height="17.30" fill="#d43305"/>
<rect x="804.27" y="518.00" width="196.23" height="17.30" fill="#e14109"/>
<rect x="812.61" y="518.00" width="187.89" height="17.30" fill="#f05b12"/>
<rect x="820.95" y="518.00" width="179.55" height="17.30" fill="#f66c19"/>
<rect x="829.30" y="518.00" width="171.20" height="17.30" fill="#fe9029"/>
<rect x="837.64" y="518.00" width="162.86" height="17.30" fill="#fdac34"/>
<rect x="845.98" y="518.00" width="154.52" height="17.30" fill="#f2c93a"/>
<rect x="854.32" y="518.00" width="146.18" height="17.30" fill="#d9e436"/>
<rect x="862.66" y="518.00" width="137.84" height="17.30" fill="#acfb38"/>
<rect x="871.00" y="518.00" width="129.50" height="17.30" fill="#6dfe62"/>
<rect x="879.35" y="518.00" width="121.15" height="17.30" fill="#32f298"/>
<rect x="887.69" y="518.00" width="112.81" height="17.30" fill="#18dec0"/>
<rect x="896.03" y="518.00" width="104.47" height="17.30" fill="#19d5cd"/>
<rect x="904.37" y="518.00" width="96.13" height="17.30" fill="#18d9c8"/>
<rect x="912.71" y="518.00" width="87.79" height="17.30" fill="#2aefa1"/>
<rect x="921.05" y="518.00" width="79.45" height="17.30" fill="#55fa76"/>
<rect x="929.40" y="518.00" width="71.10" height="17.30" fill="#8bff4b"/>
<rect x="937.74" y="518.00" width="62.76" height="17.30" fill="#b9f635"/>
<rect x="946.08" y="518.00" width="54.42" height="17.30" fill="#d9e436"/>
<rect x="954.42" y="518.00" width="46.08" height="17.30" fill="#eecf3a"/>
<rect x="962.76" y="518.00" width="37.74" height="17.30" fill="#f6c33a"/>
<rect x="971.10" y="518.00" width="29.40" height="17.30" fill="#fcb136"/>
<rect x="979.45" y="518.00" width="21.05" height="17.30" fill="#fea130"/>
<rect x="987.79" y="518.00" width="12.71" height="17.30" fill="#fe962b"/>
<rect x="996.13" y="518.00" width="4.37" height="17.30" fill="#fe9029"/>
</g>
<g opacity="0.999">
<rect x="871.0" y="134.6" width="8.35" height="17.4" fill="#000"/>
<rect x="729.2" y="518" width="8.3" height="16.7" fill="#fff"/>
<g stroke="#000" stroke-width="1.3" fill="none">
<rect x="99.70" y="134.60" width="900.70" height="400.40"/>
<path d="M99.70 134.60V127.30M99.70 535.00V542.50M134.34 134.60V127.30M134.34 535.00V542.50M168.98 134.60V127.30M168.98 535.00V542.50M203.63 134.60V127.30M203.63 535.00V542.50M238.27 134.60V127.30M238.27 535.00V542.50M272.91 134.60V127.30M272.91 535.00V542.50M307.55 134.60V127.30M307.55 535.00V542.50M342.20 134.60V127.30M342.20 535.00V542.50M376.84 134.60V127.30M376.84 535.00V542.50M411.48 134.60V127.30M411.48 535.00V542.50M446.12 134.60V127.30M446.12 535.00V542.50M480.77 134.60V127.30M480.77 535.00V542.50M515.41 134.60V127.30M515.41 535.00V542.50M550.05 134.60V127.30M550.05 535.00V542.50M584.69 134.60V127.30M584.69 535.00V542.50M619.33 134.60V127.30M619.33 535.00V542.50M653.98 134.60V127.30M653.98 535.00V542.50M688.62 134.60V127.30M688.62 535.00V542.50M723.26 134.60V127.30M723.26 535.00V542.50M757.90 134.60V127.30M757.90 535.00V542.50M792.55 134.60V127.30M792.55 535.00V542.50M827.19 134.60V127.30M827.19 535.00V542.50M861.83 134.60V127.30M861.83 535.00V542.50M896.47 134.60V127.30M896.47 535.00V542.50M931.12 134.60V127.30M931.12 535.00V542.50M965.76 134.60V127.30M965.76 535.00V542.50M1000.40 134.60V127.30M1000.40 535.00V542.50M99.70 134.60H92.40M1000.40 134.60H1007.70M99.70 167.97H96.10M1000.40 167.97H1004.00M99.70 201.33H96.10M1000.40 201.33H1004.00M99.70 234.70H96.10M1000.40 234.70H1004.00M99.70 268.07H96.10M1000.40 268.07H1004.00M99.70 301.43H92.40M1000.40 301.43H1007.70M99.70 334.80H96.10M1000.40 334.80H1004.00M99.70 368.17H96.10M1000.40 368.17H1004.00M99.70 401.53H96.10M1000.40 401.53H1004.00M99.70 434.90H96.10M1000.40 434.90H1004.00M99.70 468.27H92.40M1000.40 468.27H1007.70M99.70 501.63H96.10M1000.40 501.63H1004.00M99.70 535.00H96.10M1000.40 535.00H1004.00"/>
</g>
<g font-size="16" text-anchor="middle" stroke="#000" stroke-width="0.3">
<text x="99.70" y="561">0</text>
<text x="134.34" y="561">3</text>
<text x="168.98" y="561">6</text>
<text x="203.63" y="561">9</text>
<text x="238.27" y="561">12</text>
<text x="272.91" y="561">15</text>
<text x="307.55" y="561">18</text>
<text x="342.20" y="561">21</text>
<text x="376.84" y="561">0</text>
<text x="411.48" y="561">3</text>
<text x="446.12" y="561">6</text>
<text x="480.77" y="561">9</text>
<text x="515.41" y="561">12</text>
<text x="550.05" y="561">15</text>
<text x="584.69" y="561">18</text>
<text x="619.33" y="561">21</text>
<text x="653.98" y="561">0</text>
<text x="688.62" y="561">3</text>
<text x="723.26" y="561">6</text>
<text x="757.90" y="561">9</text>
<text x="792.55" y="561">12</text>
<text x="827.19" y="561">15</text>
<text x="861.83" y="561">18</text>
<text x="896.47" y="561">21</text>
<text x="931.12" y="561">0</text>
<text x="965.76" y="561">3</text>
<text x="1000.40" y="561">6</text>
</g>
<g font-size="16" text-anchor="end" stroke="#000" stroke-width="0.3">
<text x="86.3" y="141.20">0</text>
<text x="86.3" y="308.03">5</text>
<text x="86.3" y="474.87">10</text>
</g>
<g class="m" font-size="11.2" text-anchor="middle" fill="#333">
<text class="m" x="238.6" y="577.8" fill="#555">NOV 22</text>
<text class="m" x="515.8" y="577.8" fill="#555">NOV 23</text>
<text class="m" x="793.0" y="577.8" fill="#555">NOV 24</text>
<text class="m" x="966.2" y="577.8" fill="#555">NOV 25</text>
</g>
<text class="b" x="238.3" y="35" font-size="27.8" textLength="624.5" lengthAdjust="spacingAndGlyphs">University of Southern Mississippi Ocean Cube</text>
<text class="b" x="238.3" y="735" font-size="27.8" textLength="624.5" lengthAdjust="spacingAndGlyphs">University of Southern Mississippi Ocean Cube</text>
<text class="b" x="99.8" y="74.8" font-size="21.6" textLength="64" lengthAdjust="spacingAndGlyphs">HRSN</text>
<text x="99.4" y="104.8" font-size="21.6" stroke="#000" stroke-width="0.25" textLength="212" lengthAdjust="spacingAndGlyphs">30.2610N&#160;&#160;89.0801W</text>
<text class="b" x="549.2" y="105.3" font-size="24.8" text-anchor="middle" textLength="243.6" lengthAdjust="spacingAndGlyphs">2-D Salinity at Depth</text>
<text class="b" x="1001.3" y="74.8" font-size="21.8" text-anchor="end" textLength="181" lengthAdjust="spacingAndGlyphs">Model Start Time</text>
<text class="b" x="998.6" y="104.7" font-size="21.8" text-anchor="end" textLength="197.6" lengthAdjust="spacingAndGlyphs">11/22/2023 Hour 21</text>
<text class="b" x="549.8" y="603.6" font-size="22" text-anchor="middle" textLength="179.3" lengthAdjust="spacingAndGlyphs">Forecast Time(Z)</text>
<text class="b" transform="translate(52.7 334.1) rotate(-90)" font-size="21.6" text-anchor="middle" textLength="98.5" lengthAdjust="spacingAndGlyphs">Depth (ft)</text>
<rect x="1030.5" y="135.0" width="19.9" height="400.1" fill="url(#cb)"/>
<g stroke="#000" fill="none">
<path d="M1030.5 147.3H1050.4M1030.5 207.0H1050.4M1030.5 266.7H1050.4M1030.5 326.4H1050.4M1030.5 386.1H1050.4M1030.5 445.8H1050.4M1030.5 505.5H1050.4" stroke-width="0.7"/>
<path d="M1050.4 147.3H1057.7M1050.4 207.0H1057.7M1050.4 266.7H1057.7M1050.4 326.4H1057.7M1050.4 386.1H1057.7M1050.4 445.8H1057.7M1050.4 505.5H1057.7" stroke-width="1.2"/>
<rect x="1030.5" y="135.0" width="19.9" height="400.1" stroke-width="2.7" stroke-linejoin="round"/>
</g>
<g class="b" font-size="10.5">
<text class="b" x="1064" y="151.9">28.8750</text>
<text class="b" x="1064" y="211.6">28.1875</text>
<text class="b" x="1064" y="271.3">27.5000</text>
<text class="b" x="1064" y="331.0">26.8125</text>
<text class="b" x="1064" y="390.7">26.1250</text>
<text class="b" x="1064" y="450.4">25.4375</text>
<text class="b" x="1064" y="510.1">24.7500</text>
</g>
<text x="1030" y="124.5" font-size="13" textLength="23" lengthAdjust="spacingAndGlyphs">psu</text>
</g>
</svg></body></html>
